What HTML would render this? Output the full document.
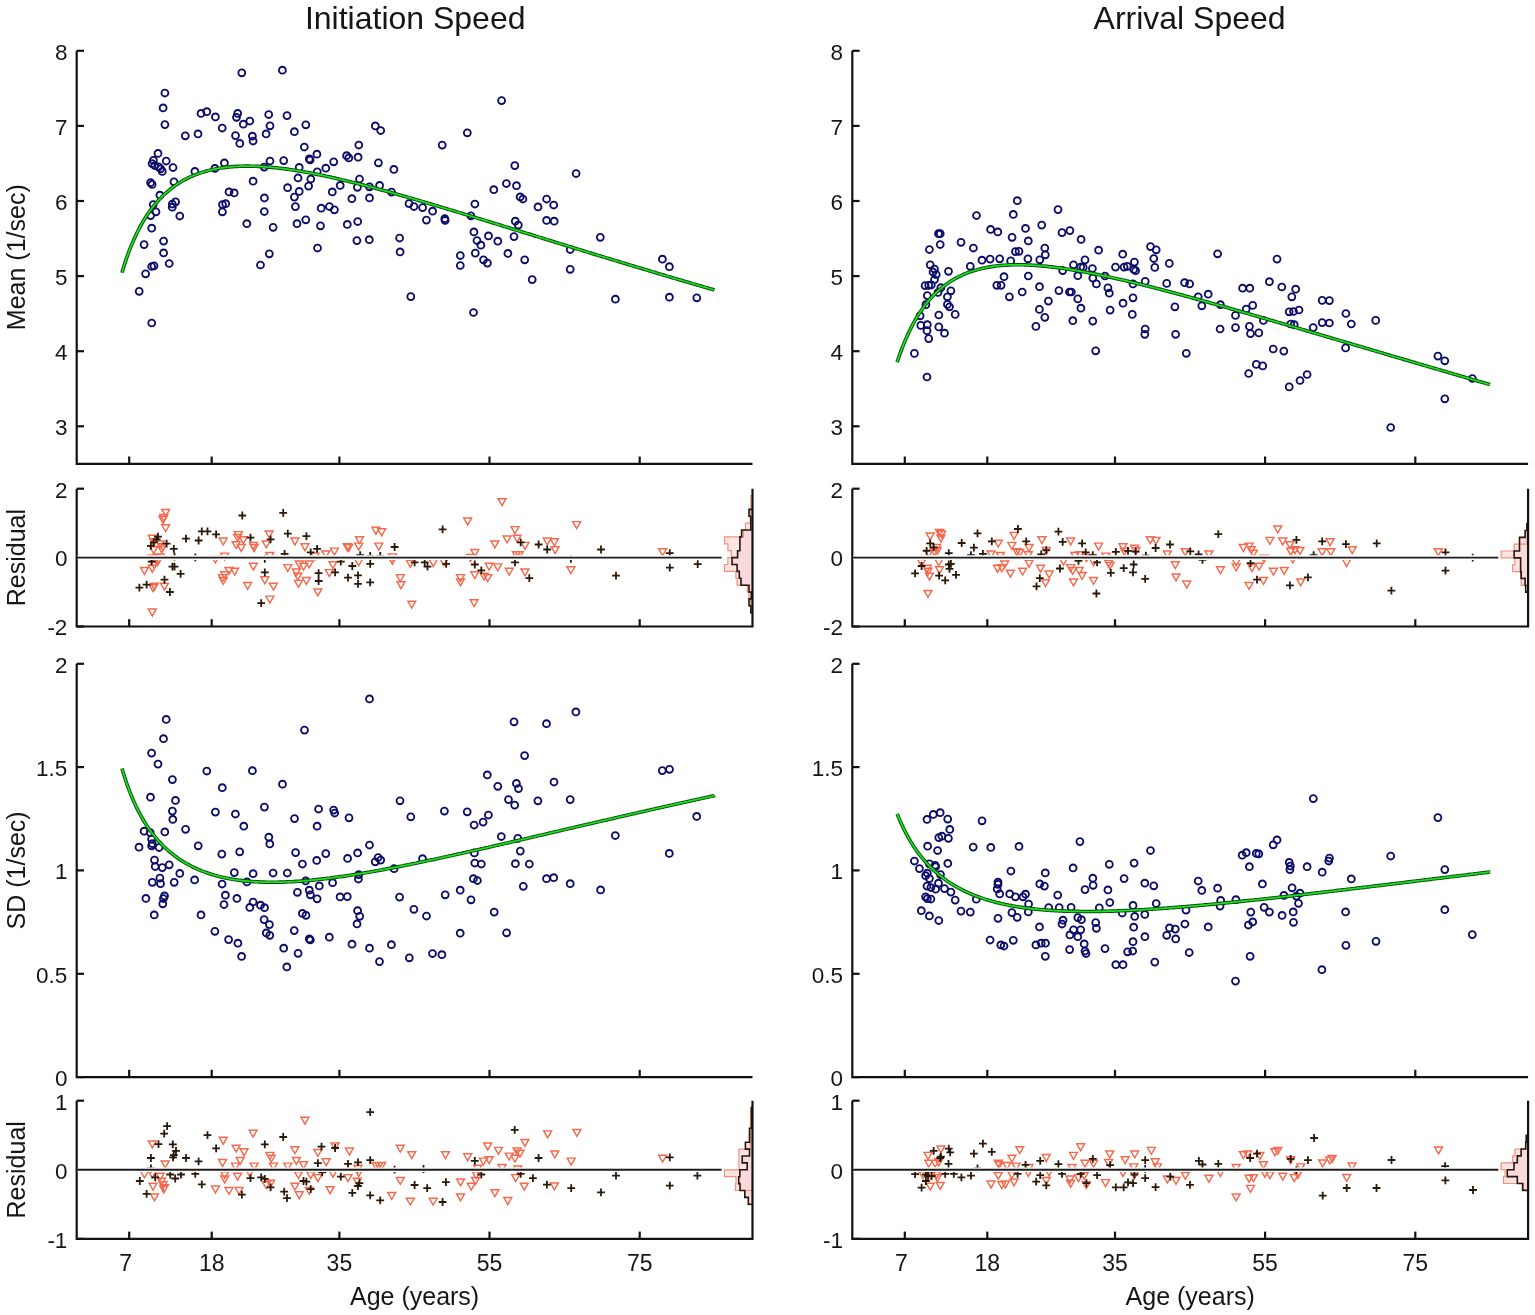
<!DOCTYPE html>
<html><head><meta charset="utf-8"><title>Initiation and Arrival Speed</title>
<style>html,body{margin:0;padding:0;background:#fff;} svg{display:block;}</style>
</head><body>
<svg width="1535" height="1315" viewBox="0 0 1535 1315">
<rect width="1535" height="1315" fill="#fff"/>
<g fill="none" stroke="#0b0b6b" stroke-width="1.85"><circle cx="241.8" cy="72.8" r="3.45"/><circle cx="282.4" cy="70.2" r="3.45"/><circle cx="164.9" cy="93.0" r="3.45"/><circle cx="163.1" cy="107.9" r="3.45"/><circle cx="164.9" cy="124.6" r="3.45"/><circle cx="185.3" cy="135.8" r="3.45"/><circle cx="198.0" cy="133.9" r="3.45"/><circle cx="201.0" cy="113.4" r="3.45"/><circle cx="206.8" cy="111.7" r="3.45"/><circle cx="215.4" cy="116.9" r="3.45"/><circle cx="222.2" cy="128.0" r="3.45"/><circle cx="237.7" cy="113.4" r="3.45"/><circle cx="236.5" cy="117.3" r="3.45"/><circle cx="249.8" cy="121.0" r="3.45"/><circle cx="243.3" cy="124.2" r="3.45"/><circle cx="235.5" cy="135.6" r="3.45"/><circle cx="239.8" cy="143.4" r="3.45"/><circle cx="252.4" cy="136.2" r="3.45"/><circle cx="253.1" cy="141.0" r="3.45"/><circle cx="268.7" cy="114.5" r="3.45"/><circle cx="270.0" cy="125.8" r="3.45"/><circle cx="266.1" cy="133.9" r="3.45"/><circle cx="287.0" cy="115.6" r="3.45"/><circle cx="294.4" cy="131.7" r="3.45"/><circle cx="158.0" cy="153.4" r="3.45"/><circle cx="153.4" cy="160.3" r="3.45"/><circle cx="152.1" cy="163.6" r="3.45"/><circle cx="154.7" cy="165.5" r="3.45"/><circle cx="158.6" cy="166.8" r="3.45"/><circle cx="160.6" cy="168.8" r="3.45"/><circle cx="162.3" cy="171.4" r="3.45"/><circle cx="166.2" cy="161.0" r="3.45"/><circle cx="173.0" cy="167.5" r="3.45"/><circle cx="150.6" cy="182.7" r="3.45"/><circle cx="152.1" cy="184.4" r="3.45"/><circle cx="174.0" cy="181.8" r="3.45"/><circle cx="159.9" cy="195.2" r="3.45"/><circle cx="153.2" cy="204.6" r="3.45"/><circle cx="175.6" cy="201.8" r="3.45"/><circle cx="172.3" cy="204.0" r="3.45"/><circle cx="172.3" cy="207.2" r="3.45"/><circle cx="194.9" cy="171.4" r="3.45"/><circle cx="214.9" cy="168.4" r="3.45"/><circle cx="224.4" cy="162.9" r="3.45"/><circle cx="264.2" cy="167.1" r="3.45"/><circle cx="270.0" cy="161.0" r="3.45"/><circle cx="283.7" cy="160.6" r="3.45"/><circle cx="253.1" cy="181.2" r="3.45"/><circle cx="229.0" cy="191.9" r="3.45"/><circle cx="234.2" cy="192.9" r="3.45"/><circle cx="264.4" cy="197.9" r="3.45"/><circle cx="287.6" cy="187.7" r="3.45"/><circle cx="294.4" cy="197.1" r="3.45"/><circle cx="222.5" cy="204.6" r="3.45"/><circle cx="225.7" cy="203.7" r="3.45"/><circle cx="295.4" cy="206.6" r="3.45"/><circle cx="298.0" cy="177.9" r="3.45"/><circle cx="299.2" cy="167.4" r="3.45"/><circle cx="299.2" cy="191.4" r="3.45"/><circle cx="264.3" cy="211.5" r="3.45"/><circle cx="222.4" cy="211.8" r="3.45"/><circle cx="246.8" cy="223.7" r="3.45"/><circle cx="273.1" cy="227.3" r="3.45"/><circle cx="297.0" cy="223.7" r="3.45"/><circle cx="156.0" cy="211.8" r="3.45"/><circle cx="150.6" cy="215.6" r="3.45"/><circle cx="179.8" cy="216.0" r="3.45"/><circle cx="151.7" cy="228.2" r="3.45"/><circle cx="163.6" cy="241.1" r="3.45"/><circle cx="144.1" cy="244.6" r="3.45"/><circle cx="163.6" cy="252.9" r="3.45"/><circle cx="169.2" cy="263.5" r="3.45"/><circle cx="151.7" cy="266.5" r="3.45"/><circle cx="154.0" cy="265.9" r="3.45"/><circle cx="145.6" cy="273.8" r="3.45"/><circle cx="269.3" cy="253.8" r="3.45"/><circle cx="260.5" cy="265.0" r="3.45"/><circle cx="139.2" cy="291.3" r="3.45"/><circle cx="151.7" cy="323.0" r="3.45"/><circle cx="305.8" cy="124.8" r="3.45"/><circle cx="304.3" cy="147.0" r="3.45"/><circle cx="316.9" cy="154.2" r="3.45"/><circle cx="309.3" cy="158.9" r="3.45"/><circle cx="310.1" cy="159.9" r="3.45"/><circle cx="333.7" cy="161.8" r="3.45"/><circle cx="325.8" cy="168.2" r="3.45"/><circle cx="317.2" cy="171.8" r="3.45"/><circle cx="310.8" cy="179.0" r="3.45"/><circle cx="308.6" cy="186.1" r="3.45"/><circle cx="332.3" cy="191.9" r="3.45"/><circle cx="340.2" cy="185.4" r="3.45"/><circle cx="346.6" cy="155.7" r="3.45"/><circle cx="348.8" cy="157.9" r="3.45"/><circle cx="358.1" cy="157.2" r="3.45"/><circle cx="358.8" cy="145.0" r="3.45"/><circle cx="375.3" cy="125.9" r="3.45"/><circle cx="380.7" cy="130.5" r="3.45"/><circle cx="378.4" cy="162.8" r="3.45"/><circle cx="393.9" cy="169.4" r="3.45"/><circle cx="359.5" cy="179.0" r="3.45"/><circle cx="357.4" cy="187.3" r="3.45"/><circle cx="369.5" cy="186.8" r="3.45"/><circle cx="379.6" cy="185.4" r="3.45"/><circle cx="391.5" cy="192.1" r="3.45"/><circle cx="351.9" cy="198.7" r="3.45"/><circle cx="369.5" cy="197.9" r="3.45"/><circle cx="442.2" cy="145.1" r="3.45"/><circle cx="467.3" cy="132.8" r="3.45"/><circle cx="501.6" cy="100.6" r="3.45"/><circle cx="493.8" cy="189.7" r="3.45"/><circle cx="506.4" cy="183.5" r="3.45"/><circle cx="321.2" cy="208.2" r="3.45"/><circle cx="329.4" cy="206.5" r="3.45"/><circle cx="334.4" cy="209.8" r="3.45"/><circle cx="305.8" cy="219.8" r="3.45"/><circle cx="320.5" cy="225.8" r="3.45"/><circle cx="347.3" cy="224.4" r="3.45"/><circle cx="357.7" cy="221.5" r="3.45"/><circle cx="317.5" cy="248.0" r="3.45"/><circle cx="356.9" cy="240.6" r="3.45"/><circle cx="369.3" cy="239.7" r="3.45"/><circle cx="399.6" cy="238.0" r="3.45"/><circle cx="400.1" cy="251.9" r="3.45"/><circle cx="409.0" cy="203.6" r="3.45"/><circle cx="414.0" cy="206.5" r="3.45"/><circle cx="422.6" cy="207.6" r="3.45"/><circle cx="432.6" cy="211.2" r="3.45"/><circle cx="426.4" cy="220.1" r="3.45"/><circle cx="444.8" cy="218.7" r="3.45"/><circle cx="445.1" cy="220.4" r="3.45"/><circle cx="474.9" cy="204.0" r="3.45"/><circle cx="470.9" cy="215.8" r="3.45"/><circle cx="473.9" cy="231.9" r="3.45"/><circle cx="477.0" cy="240.5" r="3.45"/><circle cx="480.9" cy="245.2" r="3.45"/><circle cx="488.5" cy="235.9" r="3.45"/><circle cx="497.8" cy="241.2" r="3.45"/><circle cx="475.3" cy="253.1" r="3.45"/><circle cx="460.3" cy="255.5" r="3.45"/><circle cx="460.3" cy="265.5" r="3.45"/><circle cx="483.5" cy="259.8" r="3.45"/><circle cx="487.4" cy="263.1" r="3.45"/><circle cx="507.9" cy="253.4" r="3.45"/><circle cx="410.8" cy="296.6" r="3.45"/><circle cx="473.5" cy="312.5" r="3.45"/><circle cx="514.8" cy="165.6" r="3.45"/><circle cx="576.1" cy="173.5" r="3.45"/><circle cx="516.5" cy="185.7" r="3.45"/><circle cx="520.1" cy="196.9" r="3.45"/><circle cx="522.9" cy="199.0" r="3.45"/><circle cx="546.6" cy="199.0" r="3.45"/><circle cx="538.0" cy="206.9" r="3.45"/><circle cx="553.7" cy="205.0" r="3.45"/><circle cx="515.3" cy="221.2" r="3.45"/><circle cx="518.3" cy="225.1" r="3.45"/><circle cx="546.6" cy="220.4" r="3.45"/><circle cx="554.2" cy="221.2" r="3.45"/><circle cx="514.0" cy="236.6" r="3.45"/><circle cx="524.7" cy="259.8" r="3.45"/><circle cx="532.2" cy="279.6" r="3.45"/><circle cx="570.2" cy="249.5" r="3.45"/><circle cx="570.2" cy="269.3" r="3.45"/><circle cx="600.3" cy="237.3" r="3.45"/><circle cx="615.4" cy="299.2" r="3.45"/><circle cx="662.4" cy="259.2" r="3.45"/><circle cx="669.4" cy="266.7" r="3.45"/><circle cx="669.4" cy="297.2" r="3.45"/><circle cx="696.8" cy="297.8" r="3.45"/><circle cx="1017.3" cy="200.7" r="3.45"/><circle cx="1058.0" cy="209.6" r="3.45"/><circle cx="976.5" cy="215.5" r="3.45"/><circle cx="1013.3" cy="214.4" r="3.45"/><circle cx="990.6" cy="229.4" r="3.45"/><circle cx="997.8" cy="231.9" r="3.45"/><circle cx="1025.5" cy="228.4" r="3.45"/><circle cx="1041.7" cy="225.1" r="3.45"/><circle cx="1062.0" cy="232.6" r="3.45"/><circle cx="1069.9" cy="230.6" r="3.45"/><circle cx="1081.1" cy="239.4" r="3.45"/><circle cx="938.5" cy="233.7" r="3.45"/><circle cx="940.2" cy="233.7" r="3.45"/><circle cx="940.2" cy="244.5" r="3.45"/><circle cx="929.4" cy="249.5" r="3.45"/><circle cx="961.0" cy="242.3" r="3.45"/><circle cx="973.4" cy="248.0" r="3.45"/><circle cx="1012.1" cy="237.3" r="3.45"/><circle cx="1028.3" cy="240.9" r="3.45"/><circle cx="1015.4" cy="251.6" r="3.45"/><circle cx="1019.0" cy="251.3" r="3.45"/><circle cx="1044.8" cy="248.0" r="3.45"/><circle cx="1045.3" cy="254.8" r="3.45"/><circle cx="1039.8" cy="259.8" r="3.45"/><circle cx="1027.9" cy="258.8" r="3.45"/><circle cx="1010.7" cy="260.9" r="3.45"/><circle cx="999.7" cy="258.8" r="3.45"/><circle cx="990.1" cy="259.1" r="3.45"/><circle cx="982.0" cy="260.2" r="3.45"/><circle cx="970.3" cy="266.3" r="3.45"/><circle cx="1098.6" cy="250.2" r="3.45"/><circle cx="1085.0" cy="259.9" r="3.45"/><circle cx="1073.5" cy="264.8" r="3.45"/><circle cx="1080.7" cy="267.1" r="3.45"/><circle cx="1083.2" cy="267.4" r="3.45"/><circle cx="1092.4" cy="268.5" r="3.45"/><circle cx="1062.7" cy="270.6" r="3.45"/><circle cx="1077.8" cy="275.7" r="3.45"/><circle cx="1092.8" cy="278.1" r="3.45"/><circle cx="1096.4" cy="283.9" r="3.45"/><circle cx="930.2" cy="264.8" r="3.45"/><circle cx="934.5" cy="269.1" r="3.45"/><circle cx="933.0" cy="272.0" r="3.45"/><circle cx="936.2" cy="274.6" r="3.45"/><circle cx="934.5" cy="279.6" r="3.45"/><circle cx="948.5" cy="271.3" r="3.45"/><circle cx="925.1" cy="285.6" r="3.45"/><circle cx="928.7" cy="285.3" r="3.45"/><circle cx="931.3" cy="284.9" r="3.45"/><circle cx="940.9" cy="287.7" r="3.45"/><circle cx="938.0" cy="292.5" r="3.45"/><circle cx="950.9" cy="290.8" r="3.45"/><circle cx="927.3" cy="295.6" r="3.45"/><circle cx="947.4" cy="296.8" r="3.45"/><circle cx="947.4" cy="304.4" r="3.45"/><circle cx="949.5" cy="306.8" r="3.45"/><circle cx="925.9" cy="304.7" r="3.45"/><circle cx="920.1" cy="315.8" r="3.45"/><circle cx="938.8" cy="315.0" r="3.45"/><circle cx="955.2" cy="314.4" r="3.45"/><circle cx="920.8" cy="325.4" r="3.45"/><circle cx="927.3" cy="324.7" r="3.45"/><circle cx="938.8" cy="326.9" r="3.45"/><circle cx="1004.0" cy="276.7" r="3.45"/><circle cx="1028.3" cy="276.0" r="3.45"/><circle cx="996.8" cy="285.3" r="3.45"/><circle cx="1001.1" cy="285.3" r="3.45"/><circle cx="1039.5" cy="286.7" r="3.45"/><circle cx="1022.2" cy="292.0" r="3.45"/><circle cx="1009.4" cy="296.8" r="3.45"/><circle cx="1058.9" cy="290.6" r="3.45"/><circle cx="1069.5" cy="292.0" r="3.45"/><circle cx="1071.3" cy="292.0" r="3.45"/><circle cx="1077.8" cy="298.9" r="3.45"/><circle cx="1048.4" cy="301.1" r="3.45"/><circle cx="1039.4" cy="309.4" r="3.45"/><circle cx="1044.8" cy="317.3" r="3.45"/><circle cx="1080.9" cy="308.2" r="3.45"/><circle cx="1072.8" cy="320.7" r="3.45"/><circle cx="1092.8" cy="321.1" r="3.45"/><circle cx="1035.9" cy="326.4" r="3.45"/><circle cx="927.0" cy="330.7" r="3.45"/><circle cx="944.5" cy="333.2" r="3.45"/><circle cx="928.7" cy="338.6" r="3.45"/><circle cx="914.4" cy="353.4" r="3.45"/><circle cx="927.0" cy="377.0" r="3.45"/><circle cx="1095.7" cy="350.8" r="3.45"/><circle cx="1122.7" cy="254.2" r="3.45"/><circle cx="1150.5" cy="246.6" r="3.45"/><circle cx="1156.2" cy="249.8" r="3.45"/><circle cx="1153.8" cy="258.5" r="3.45"/><circle cx="1154.8" cy="267.4" r="3.45"/><circle cx="1169.3" cy="263.4" r="3.45"/><circle cx="1217.6" cy="253.8" r="3.45"/><circle cx="1277.0" cy="259.1" r="3.45"/><circle cx="1115.5" cy="267.1" r="3.45"/><circle cx="1124.1" cy="267.1" r="3.45"/><circle cx="1127.3" cy="266.3" r="3.45"/><circle cx="1134.4" cy="262.1" r="3.45"/><circle cx="1133.7" cy="269.5" r="3.45"/><circle cx="1135.6" cy="270.7" r="3.45"/><circle cx="1105.0" cy="276.0" r="3.45"/><circle cx="1107.9" cy="287.9" r="3.45"/><circle cx="1109.3" cy="293.2" r="3.45"/><circle cx="1133.0" cy="283.9" r="3.45"/><circle cx="1145.2" cy="281.4" r="3.45"/><circle cx="1166.7" cy="283.4" r="3.45"/><circle cx="1184.6" cy="282.7" r="3.45"/><circle cx="1189.6" cy="283.9" r="3.45"/><circle cx="1133.0" cy="297.8" r="3.45"/><circle cx="1123.0" cy="303.2" r="3.45"/><circle cx="1110.1" cy="310.1" r="3.45"/><circle cx="1132.3" cy="314.4" r="3.45"/><circle cx="1174.9" cy="306.8" r="3.45"/><circle cx="1198.2" cy="296.8" r="3.45"/><circle cx="1208.2" cy="294.2" r="3.45"/><circle cx="1201.8" cy="305.8" r="3.45"/><circle cx="1220.4" cy="304.7" r="3.45"/><circle cx="1242.6" cy="288.2" r="3.45"/><circle cx="1249.8" cy="288.2" r="3.45"/><circle cx="1269.4" cy="281.7" r="3.45"/><circle cx="1281.8" cy="287.0" r="3.45"/><circle cx="1295.7" cy="289.2" r="3.45"/><circle cx="1291.8" cy="296.8" r="3.45"/><circle cx="1252.7" cy="305.4" r="3.45"/><circle cx="1246.2" cy="309.0" r="3.45"/><circle cx="1235.5" cy="315.4" r="3.45"/><circle cx="1263.4" cy="320.4" r="3.45"/><circle cx="1289.2" cy="311.8" r="3.45"/><circle cx="1293.5" cy="311.5" r="3.45"/><circle cx="1299.0" cy="310.0" r="3.45"/><circle cx="1290.7" cy="324.0" r="3.45"/><circle cx="1294.2" cy="324.7" r="3.45"/><circle cx="1145.2" cy="329.0" r="3.45"/><circle cx="1220.1" cy="329.0" r="3.45"/><circle cx="1235.5" cy="327.6" r="3.45"/><circle cx="1249.4" cy="326.4" r="3.45"/><circle cx="1144.8" cy="334.3" r="3.45"/><circle cx="1175.6" cy="334.3" r="3.45"/><circle cx="1250.5" cy="333.6" r="3.45"/><circle cx="1258.8" cy="332.9" r="3.45"/><circle cx="1186.3" cy="353.3" r="3.45"/><circle cx="1273.2" cy="349.0" r="3.45"/><circle cx="1283.8" cy="351.1" r="3.45"/><circle cx="1256.3" cy="364.4" r="3.45"/><circle cx="1262.7" cy="365.9" r="3.45"/><circle cx="1248.7" cy="373.5" r="3.45"/><circle cx="1307.1" cy="374.5" r="3.45"/><circle cx="1300.0" cy="380.5" r="3.45"/><circle cx="1289.2" cy="386.9" r="3.45"/><circle cx="1322.2" cy="300.4" r="3.45"/><circle cx="1329.4" cy="300.6" r="3.45"/><circle cx="1345.9" cy="313.5" r="3.45"/><circle cx="1351.3" cy="324.0" r="3.45"/><circle cx="1375.7" cy="320.4" r="3.45"/><circle cx="1322.2" cy="322.6" r="3.45"/><circle cx="1329.4" cy="323.0" r="3.45"/><circle cx="1313.2" cy="327.6" r="3.45"/><circle cx="1345.6" cy="347.9" r="3.45"/><circle cx="1437.9" cy="356.1" r="3.45"/><circle cx="1444.8" cy="360.8" r="3.45"/><circle cx="1472.4" cy="378.5" r="3.45"/><circle cx="1444.8" cy="398.8" r="3.45"/><circle cx="1390.7" cy="427.5" r="3.45"/><circle cx="166.2" cy="719.4" r="3.45"/><circle cx="163.5" cy="738.7" r="3.45"/><circle cx="151.6" cy="753.1" r="3.45"/><circle cx="158.0" cy="764.1" r="3.45"/><circle cx="172.4" cy="779.6" r="3.45"/><circle cx="150.5" cy="797.2" r="3.45"/><circle cx="175.5" cy="800.4" r="3.45"/><circle cx="172.4" cy="811.1" r="3.45"/><circle cx="172.8" cy="819.4" r="3.45"/><circle cx="144.1" cy="831.2" r="3.45"/><circle cx="150.2" cy="832.6" r="3.45"/><circle cx="164.8" cy="831.9" r="3.45"/><circle cx="185.6" cy="829.3" r="3.45"/><circle cx="206.8" cy="771.0" r="3.45"/><circle cx="222.3" cy="787.7" r="3.45"/><circle cx="252.4" cy="770.7" r="3.45"/><circle cx="282.5" cy="784.2" r="3.45"/><circle cx="304.5" cy="730.1" r="3.45"/><circle cx="215.4" cy="812.1" r="3.45"/><circle cx="235.4" cy="814.0" r="3.45"/><circle cx="264.4" cy="807.1" r="3.45"/><circle cx="243.8" cy="826.2" r="3.45"/><circle cx="294.5" cy="818.6" r="3.45"/><circle cx="318.6" cy="809.0" r="3.45"/><circle cx="317.1" cy="826.2" r="3.45"/><circle cx="268.8" cy="837.2" r="3.45"/><circle cx="151.6" cy="839.1" r="3.45"/><circle cx="139.0" cy="847.2" r="3.45"/><circle cx="152.3" cy="843.6" r="3.45"/><circle cx="151.6" cy="845.8" r="3.45"/><circle cx="159.1" cy="847.5" r="3.45"/><circle cx="154.5" cy="860.1" r="3.45"/><circle cx="155.2" cy="866.5" r="3.45"/><circle cx="162.3" cy="867.6" r="3.45"/><circle cx="169.2" cy="864.8" r="3.45"/><circle cx="179.8" cy="873.4" r="3.45"/><circle cx="159.9" cy="878.0" r="3.45"/><circle cx="152.3" cy="882.3" r="3.45"/><circle cx="160.5" cy="883.7" r="3.45"/><circle cx="174.2" cy="882.3" r="3.45"/><circle cx="194.6" cy="879.9" r="3.45"/><circle cx="198.2" cy="845.8" r="3.45"/><circle cx="221.8" cy="854.1" r="3.45"/><circle cx="239.7" cy="851.8" r="3.45"/><circle cx="269.8" cy="843.9" r="3.45"/><circle cx="295.6" cy="852.6" r="3.45"/><circle cx="302.4" cy="864.0" r="3.45"/><circle cx="316.7" cy="860.4" r="3.45"/><circle cx="234.3" cy="872.6" r="3.45"/><circle cx="253.1" cy="873.7" r="3.45"/><circle cx="273.1" cy="873.0" r="3.45"/><circle cx="287.3" cy="873.0" r="3.45"/><circle cx="222.1" cy="884.0" r="3.45"/><circle cx="246.9" cy="881.9" r="3.45"/><circle cx="305.7" cy="880.9" r="3.45"/><circle cx="319.3" cy="885.9" r="3.45"/><circle cx="297.4" cy="892.3" r="3.45"/><circle cx="309.3" cy="890.2" r="3.45"/><circle cx="310.4" cy="894.8" r="3.45"/><circle cx="317.1" cy="898.8" r="3.45"/><circle cx="145.9" cy="898.4" r="3.45"/><circle cx="164.5" cy="895.9" r="3.45"/><circle cx="163.4" cy="898.5" r="3.45"/><circle cx="162.8" cy="903.8" r="3.45"/><circle cx="154.2" cy="914.9" r="3.45"/><circle cx="201.0" cy="914.9" r="3.45"/><circle cx="225.4" cy="895.2" r="3.45"/><circle cx="236.9" cy="898.4" r="3.45"/><circle cx="224.0" cy="904.5" r="3.45"/><circle cx="253.1" cy="902.0" r="3.45"/><circle cx="249.8" cy="907.4" r="3.45"/><circle cx="260.5" cy="905.2" r="3.45"/><circle cx="264.5" cy="907.7" r="3.45"/><circle cx="302.4" cy="913.4" r="3.45"/><circle cx="306.0" cy="915.3" r="3.45"/><circle cx="264.1" cy="919.6" r="3.45"/><circle cx="269.4" cy="924.6" r="3.45"/><circle cx="266.3" cy="932.9" r="3.45"/><circle cx="269.8" cy="935.3" r="3.45"/><circle cx="294.2" cy="930.6" r="3.45"/><circle cx="309.3" cy="938.9" r="3.45"/><circle cx="310.3" cy="939.9" r="3.45"/><circle cx="214.9" cy="931.3" r="3.45"/><circle cx="228.6" cy="939.6" r="3.45"/><circle cx="237.9" cy="943.2" r="3.45"/><circle cx="283.7" cy="948.2" r="3.45"/><circle cx="298.1" cy="953.3" r="3.45"/><circle cx="241.6" cy="956.4" r="3.45"/><circle cx="286.8" cy="966.9" r="3.45"/><circle cx="369.5" cy="698.9" r="3.45"/><circle cx="514.0" cy="721.8" r="3.45"/><circle cx="524.6" cy="755.6" r="3.45"/><circle cx="487.3" cy="774.9" r="3.45"/><circle cx="497.8" cy="786.3" r="3.45"/><circle cx="516.4" cy="783.4" r="3.45"/><circle cx="518.5" cy="788.6" r="3.45"/><circle cx="508.5" cy="799.6" r="3.45"/><circle cx="514.7" cy="805.1" r="3.45"/><circle cx="400.0" cy="800.8" r="3.45"/><circle cx="410.8" cy="816.8" r="3.45"/><circle cx="444.4" cy="811.1" r="3.45"/><circle cx="467.2" cy="811.8" r="3.45"/><circle cx="488.4" cy="815.0" r="3.45"/><circle cx="483.1" cy="822.1" r="3.45"/><circle cx="474.1" cy="825.0" r="3.45"/><circle cx="501.3" cy="836.5" r="3.45"/><circle cx="517.8" cy="838.3" r="3.45"/><circle cx="333.6" cy="810.1" r="3.45"/><circle cx="334.7" cy="813.0" r="3.45"/><circle cx="349.0" cy="817.8" r="3.45"/><circle cx="325.8" cy="853.6" r="3.45"/><circle cx="347.6" cy="858.4" r="3.45"/><circle cx="357.6" cy="852.9" r="3.45"/><circle cx="369.5" cy="845.0" r="3.45"/><circle cx="378.1" cy="857.5" r="3.45"/><circle cx="380.7" cy="860.1" r="3.45"/><circle cx="375.2" cy="861.8" r="3.45"/><circle cx="358.7" cy="874.7" r="3.45"/><circle cx="358.4" cy="879.0" r="3.45"/><circle cx="394.1" cy="868.7" r="3.45"/><circle cx="422.5" cy="858.7" r="3.45"/><circle cx="474.4" cy="852.9" r="3.45"/><circle cx="474.8" cy="863.0" r="3.45"/><circle cx="481.3" cy="864.0" r="3.45"/><circle cx="520.3" cy="851.1" r="3.45"/><circle cx="515.4" cy="863.7" r="3.45"/><circle cx="529.3" cy="864.0" r="3.45"/><circle cx="473.4" cy="878.7" r="3.45"/><circle cx="477.4" cy="880.5" r="3.45"/><circle cx="523.3" cy="886.3" r="3.45"/><circle cx="332.6" cy="882.7" r="3.45"/><circle cx="340.1" cy="896.9" r="3.45"/><circle cx="347.3" cy="896.6" r="3.45"/><circle cx="399.6" cy="897.1" r="3.45"/><circle cx="445.2" cy="894.8" r="3.45"/><circle cx="460.2" cy="890.2" r="3.45"/><circle cx="471.0" cy="899.8" r="3.45"/><circle cx="413.9" cy="909.3" r="3.45"/><circle cx="426.5" cy="916.0" r="3.45"/><circle cx="494.2" cy="912.1" r="3.45"/><circle cx="357.6" cy="910.7" r="3.45"/><circle cx="359.7" cy="916.3" r="3.45"/><circle cx="357.0" cy="923.9" r="3.45"/><circle cx="329.3" cy="937.2" r="3.45"/><circle cx="352.0" cy="944.2" r="3.45"/><circle cx="369.5" cy="948.2" r="3.45"/><circle cx="391.4" cy="944.7" r="3.45"/><circle cx="379.5" cy="961.6" r="3.45"/><circle cx="409.3" cy="957.8" r="3.45"/><circle cx="432.5" cy="953.5" r="3.45"/><circle cx="441.9" cy="954.7" r="3.45"/><circle cx="460.2" cy="933.2" r="3.45"/><circle cx="506.6" cy="932.8" r="3.45"/><circle cx="575.9" cy="711.9" r="3.45"/><circle cx="546.5" cy="723.7" r="3.45"/><circle cx="554.0" cy="782.0" r="3.45"/><circle cx="537.9" cy="800.8" r="3.45"/><circle cx="570.2" cy="799.6" r="3.45"/><circle cx="662.3" cy="770.6" r="3.45"/><circle cx="669.5" cy="769.3" r="3.45"/><circle cx="696.7" cy="816.4" r="3.45"/><circle cx="615.3" cy="835.5" r="3.45"/><circle cx="669.3" cy="853.4" r="3.45"/><circle cx="546.5" cy="878.7" r="3.45"/><circle cx="553.7" cy="877.7" r="3.45"/><circle cx="570.2" cy="883.7" r="3.45"/><circle cx="600.6" cy="889.9" r="3.45"/><circle cx="933.3" cy="814.4" r="3.45"/><circle cx="940.2" cy="812.7" r="3.45"/><circle cx="927.0" cy="819.4" r="3.45"/><circle cx="947.7" cy="819.1" r="3.45"/><circle cx="949.8" cy="829.4" r="3.45"/><circle cx="938.8" cy="837.6" r="3.45"/><circle cx="941.9" cy="836.2" r="3.45"/><circle cx="948.4" cy="838.3" r="3.45"/><circle cx="927.6" cy="846.2" r="3.45"/><circle cx="937.6" cy="850.5" r="3.45"/><circle cx="982.0" cy="820.8" r="3.45"/><circle cx="973.2" cy="847.1" r="3.45"/><circle cx="990.8" cy="847.4" r="3.45"/><circle cx="1019.0" cy="846.4" r="3.45"/><circle cx="1079.9" cy="841.6" r="3.45"/><circle cx="914.4" cy="861.0" r="3.45"/><circle cx="919.4" cy="868.6" r="3.45"/><circle cx="929.4" cy="863.8" r="3.45"/><circle cx="935.2" cy="865.3" r="3.45"/><circle cx="935.6" cy="866.7" r="3.45"/><circle cx="947.8" cy="863.4" r="3.45"/><circle cx="927.3" cy="873.2" r="3.45"/><circle cx="925.6" cy="875.7" r="3.45"/><circle cx="929.4" cy="878.6" r="3.45"/><circle cx="940.5" cy="874.6" r="3.45"/><circle cx="938.5" cy="883.2" r="3.45"/><circle cx="927.0" cy="886.1" r="3.45"/><circle cx="930.9" cy="887.5" r="3.45"/><circle cx="935.6" cy="889.2" r="3.45"/><circle cx="944.5" cy="888.6" r="3.45"/><circle cx="950.9" cy="892.1" r="3.45"/><circle cx="925.6" cy="896.8" r="3.45"/><circle cx="927.3" cy="898.7" r="3.45"/><circle cx="930.9" cy="899.0" r="3.45"/><circle cx="955.2" cy="900.1" r="3.45"/><circle cx="921.3" cy="910.7" r="3.45"/><circle cx="929.4" cy="915.9" r="3.45"/><circle cx="938.8" cy="920.5" r="3.45"/><circle cx="961.0" cy="911.1" r="3.45"/><circle cx="970.3" cy="912.1" r="3.45"/><circle cx="976.3" cy="899.2" r="3.45"/><circle cx="998.0" cy="882.2" r="3.45"/><circle cx="998.0" cy="884.3" r="3.45"/><circle cx="997.2" cy="888.9" r="3.45"/><circle cx="999.7" cy="893.9" r="3.45"/><circle cx="1009.7" cy="893.9" r="3.45"/><circle cx="1015.4" cy="896.8" r="3.45"/><circle cx="1023.0" cy="896.8" r="3.45"/><circle cx="1025.5" cy="894.2" r="3.45"/><circle cx="1010.9" cy="871.0" r="3.45"/><circle cx="1045.3" cy="872.9" r="3.45"/><circle cx="1073.1" cy="867.9" r="3.45"/><circle cx="1039.8" cy="883.9" r="3.45"/><circle cx="1044.4" cy="886.1" r="3.45"/><circle cx="1057.7" cy="895.1" r="3.45"/><circle cx="1085.0" cy="889.6" r="3.45"/><circle cx="1092.8" cy="878.2" r="3.45"/><circle cx="1093.1" cy="885.3" r="3.45"/><circle cx="1028.6" cy="904.0" r="3.45"/><circle cx="1028.3" cy="911.9" r="3.45"/><circle cx="1011.9" cy="912.6" r="3.45"/><circle cx="1017.2" cy="917.3" r="3.45"/><circle cx="998.0" cy="918.3" r="3.45"/><circle cx="1048.7" cy="907.6" r="3.45"/><circle cx="1059.2" cy="907.6" r="3.45"/><circle cx="1071.1" cy="907.3" r="3.45"/><circle cx="1099.3" cy="907.8" r="3.45"/><circle cx="1063.0" cy="920.2" r="3.45"/><circle cx="1062.0" cy="924.0" r="3.45"/><circle cx="1077.8" cy="917.6" r="3.45"/><circle cx="1081.4" cy="919.7" r="3.45"/><circle cx="1095.7" cy="922.6" r="3.45"/><circle cx="1039.5" cy="926.9" r="3.45"/><circle cx="1096.4" cy="928.3" r="3.45"/><circle cx="1073.5" cy="929.8" r="3.45"/><circle cx="1080.7" cy="929.8" r="3.45"/><circle cx="1069.9" cy="934.9" r="3.45"/><circle cx="1077.8" cy="936.7" r="3.45"/><circle cx="990.1" cy="940.0" r="3.45"/><circle cx="1000.8" cy="944.9" r="3.45"/><circle cx="1004.0" cy="946.0" r="3.45"/><circle cx="1013.3" cy="940.3" r="3.45"/><circle cx="1035.9" cy="944.9" r="3.45"/><circle cx="1041.2" cy="943.2" r="3.45"/><circle cx="1045.5" cy="943.2" r="3.45"/><circle cx="1045.3" cy="956.3" r="3.45"/><circle cx="1069.6" cy="949.6" r="3.45"/><circle cx="1084.2" cy="943.9" r="3.45"/><circle cx="1085.0" cy="951.0" r="3.45"/><circle cx="1086.0" cy="953.5" r="3.45"/><circle cx="1109.3" cy="864.3" r="3.45"/><circle cx="1134.1" cy="863.1" r="3.45"/><circle cx="1150.5" cy="850.5" r="3.45"/><circle cx="1124.1" cy="878.6" r="3.45"/><circle cx="1107.9" cy="889.9" r="3.45"/><circle cx="1144.8" cy="883.2" r="3.45"/><circle cx="1153.8" cy="885.8" r="3.45"/><circle cx="1109.8" cy="902.5" r="3.45"/><circle cx="1133.0" cy="905.4" r="3.45"/><circle cx="1156.2" cy="903.5" r="3.45"/><circle cx="1122.2" cy="913.0" r="3.45"/><circle cx="1134.7" cy="916.4" r="3.45"/><circle cx="1144.8" cy="914.4" r="3.45"/><circle cx="1133.7" cy="927.2" r="3.45"/><circle cx="1169.5" cy="927.9" r="3.45"/><circle cx="1175.3" cy="929.1" r="3.45"/><circle cx="1184.9" cy="924.0" r="3.45"/><circle cx="1208.2" cy="926.9" r="3.45"/><circle cx="1186.0" cy="910.1" r="3.45"/><circle cx="1198.2" cy="881.0" r="3.45"/><circle cx="1201.8" cy="890.4" r="3.45"/><circle cx="1217.6" cy="888.2" r="3.45"/><circle cx="1220.7" cy="900.4" r="3.45"/><circle cx="1220.1" cy="906.1" r="3.45"/><circle cx="1235.9" cy="899.7" r="3.45"/><circle cx="1242.2" cy="855.2" r="3.45"/><circle cx="1246.2" cy="852.7" r="3.45"/><circle cx="1256.3" cy="853.4" r="3.45"/><circle cx="1258.8" cy="853.8" r="3.45"/><circle cx="1249.4" cy="866.7" r="3.45"/><circle cx="1273.2" cy="844.8" r="3.45"/><circle cx="1277.0" cy="839.9" r="3.45"/><circle cx="1289.2" cy="862.4" r="3.45"/><circle cx="1290.4" cy="866.0" r="3.45"/><circle cx="1289.9" cy="869.6" r="3.45"/><circle cx="1307.1" cy="866.7" r="3.45"/><circle cx="1262.4" cy="883.9" r="3.45"/><circle cx="1292.1" cy="887.8" r="3.45"/><circle cx="1283.9" cy="895.4" r="3.45"/><circle cx="1296.4" cy="896.1" r="3.45"/><circle cx="1300.0" cy="893.2" r="3.45"/><circle cx="1298.5" cy="903.3" r="3.45"/><circle cx="1264.1" cy="907.3" r="3.45"/><circle cx="1269.4" cy="912.1" r="3.45"/><circle cx="1250.8" cy="912.1" r="3.45"/><circle cx="1282.1" cy="915.4" r="3.45"/><circle cx="1293.2" cy="911.9" r="3.45"/><circle cx="1293.5" cy="922.3" r="3.45"/><circle cx="1252.7" cy="921.9" r="3.45"/><circle cx="1248.4" cy="925.0" r="3.45"/><circle cx="1166.7" cy="935.3" r="3.45"/><circle cx="1175.7" cy="938.9" r="3.45"/><circle cx="1144.9" cy="936.7" r="3.45"/><circle cx="1133.0" cy="941.7" r="3.45"/><circle cx="1105.0" cy="948.6" r="3.45"/><circle cx="1127.6" cy="951.8" r="3.45"/><circle cx="1132.7" cy="951.0" r="3.45"/><circle cx="1115.8" cy="964.7" r="3.45"/><circle cx="1123.0" cy="964.7" r="3.45"/><circle cx="1154.8" cy="962.1" r="3.45"/><circle cx="1189.2" cy="952.5" r="3.45"/><circle cx="1250.1" cy="956.3" r="3.45"/><circle cx="1235.5" cy="981.1" r="3.45"/><circle cx="1313.3" cy="798.6" r="3.45"/><circle cx="1437.9" cy="817.6" r="3.45"/><circle cx="1329.4" cy="858.1" r="3.45"/><circle cx="1328.7" cy="861.0" r="3.45"/><circle cx="1322.2" cy="872.2" r="3.45"/><circle cx="1351.3" cy="878.9" r="3.45"/><circle cx="1390.7" cy="856.0" r="3.45"/><circle cx="1444.8" cy="869.6" r="3.45"/><circle cx="1444.8" cy="909.7" r="3.45"/><circle cx="1345.6" cy="911.9" r="3.45"/><circle cx="1345.9" cy="945.3" r="3.45"/><circle cx="1376.0" cy="941.3" r="3.45"/><circle cx="1472.3" cy="934.6" r="3.45"/><circle cx="1321.9" cy="969.7" r="3.45"/></g>
<path d="M121.9,272.7 L123.4,267.8 L124.9,263.1 L126.4,258.6 L127.9,254.4 L129.4,250.4 L130.9,246.5 L132.4,242.9 L133.9,239.5 L135.4,236.2 L136.9,233.0 L138.4,230.0 L139.9,227.2 L141.4,224.4 L142.9,221.8 L144.4,219.3 L145.9,216.9 L147.4,214.6 L148.9,212.4 L150.4,210.3 L151.9,208.3 L153.4,206.3 L154.9,204.5 L156.4,202.7 L157.9,201.0 L159.4,199.3 L160.9,197.8 L162.4,196.2 L163.9,194.8 L165.4,193.4 L166.9,192.1 L168.4,190.8 L169.9,189.5 L171.4,188.3 L172.9,187.2 L174.4,186.1 L175.9,185.1 L177.4,184.0 L178.9,183.1 L180.4,182.2 L181.9,181.3 L183.4,180.4 L184.9,179.6 L186.4,178.8 L187.9,178.0 L189.4,177.3 L190.9,176.6 L192.4,176.0 L193.9,175.3 L195.4,174.7 L196.9,174.2 L198.4,173.6 L199.9,173.1 L201.4,172.6 L202.9,172.1 L204.4,171.7 L205.9,171.2 L207.4,170.8 L208.9,170.4 L210.4,170.1 L211.9,169.7 L213.4,169.4 L214.9,169.1 L216.4,168.8 L217.9,168.5 L219.4,168.2 L220.9,168.0 L222.4,167.8 L223.9,167.6 L225.4,167.4 L226.9,167.2 L228.4,167.0 L229.9,166.9 L231.4,166.8 L232.9,166.6 L234.4,166.5 L235.9,166.4 L237.4,166.4 L238.9,166.3 L240.4,166.2 L241.9,166.2 L243.4,166.2 L244.9,166.1 L246.4,166.1 L247.9,166.1 L249.4,166.1 L250.9,166.2 L252.4,166.2 L253.9,166.2 L255.4,166.3 L256.9,166.3 L258.4,166.4 L259.9,166.5 L261.4,166.6 L262.9,166.7 L264.4,166.8 L265.9,166.9 L267.4,167.0 L268.9,167.1 L270.4,167.2 L271.9,167.4 L273.4,167.5 L274.9,167.7 L276.4,167.8 L277.9,168.0 L279.4,168.2 L280.9,168.4 L282.4,168.5 L283.9,168.7 L285.4,168.9 L286.9,169.1 L288.4,169.3 L289.9,169.6 L291.4,169.8 L292.9,170.0 L294.4,170.2 L295.9,170.5 L297.4,170.7 L298.9,171.0 L300.4,171.2 L301.9,171.5 L303.4,171.7 L304.9,172.0 L306.4,172.3 L307.9,172.5 L309.4,172.8 L310.9,173.1 L312.4,173.4 L313.9,173.7 L315.4,174.0 L316.9,174.3 L318.4,174.6 L319.9,174.9 L321.4,175.2 L322.9,175.5 L324.4,175.8 L325.9,176.2 L327.4,176.5 L328.9,176.8 L330.4,177.1 L331.9,177.5 L333.4,177.8 L334.9,178.1 L336.4,178.5 L337.9,178.8 L339.4,179.2 L340.9,179.5 L342.4,179.9 L343.9,180.2 L345.4,180.6 L346.9,181.0 L348.4,181.3 L349.9,181.7 L351.4,182.1 L352.9,182.4 L354.4,182.8 L355.9,183.2 L357.4,183.6 L358.9,183.9 L360.4,184.3 L361.9,184.7 L363.4,185.1 L364.9,185.5 L366.4,185.9 L367.9,186.3 L369.4,186.7 L370.9,187.0 L372.4,187.4 L373.9,187.8 L375.4,188.2 L376.9,188.7 L378.4,189.1 L379.9,189.5 L381.4,189.9 L382.9,190.3 L384.4,190.7 L385.9,191.1 L387.4,191.5 L388.9,191.9 L390.4,192.3 L391.9,192.8 L393.4,193.2 L394.9,193.6 L396.4,194.0 L397.9,194.5 L399.4,194.9 L400.9,195.3 L402.4,195.7 L403.9,196.2 L405.4,196.6 L406.9,197.0 L408.4,197.4 L409.9,197.9 L411.4,198.3 L412.9,198.7 L414.4,199.2 L415.9,199.6 L417.4,200.1 L418.9,200.5 L420.4,200.9 L421.9,201.4 L423.4,201.8 L424.9,202.3 L426.4,202.7 L427.9,203.1 L429.4,203.6 L430.9,204.0 L432.4,204.5 L433.9,204.9 L435.4,205.4 L436.9,205.8 L438.4,206.3 L439.9,206.7 L441.4,207.2 L442.9,207.6 L444.4,208.1 L445.9,208.5 L447.4,209.0 L448.9,209.4 L450.4,209.9 L451.9,210.3 L453.4,210.8 L454.9,211.2 L456.4,211.7 L457.9,212.1 L459.4,212.6 L460.9,213.1 L462.4,213.5 L463.9,214.0 L465.4,214.4 L466.9,214.9 L468.4,215.3 L469.9,215.8 L471.4,216.3 L472.9,216.7 L474.4,217.2 L475.9,217.6 L477.4,218.1 L478.9,218.6 L480.4,219.0 L481.9,219.5 L483.4,219.9 L484.9,220.4 L486.4,220.9 L487.9,221.3 L489.4,221.8 L490.9,222.2 L492.4,222.7 L493.9,223.2 L495.4,223.6 L496.9,224.1 L498.4,224.6 L499.9,225.0 L501.4,225.5 L502.9,226.0 L504.4,226.4 L505.9,226.9 L507.4,227.3 L508.9,227.8 L510.4,228.3 L511.9,228.7 L513.4,229.2 L514.9,229.7 L516.4,230.1 L517.9,230.6 L519.4,231.1 L520.9,231.5 L522.4,232.0 L523.9,232.5 L525.4,232.9 L526.9,233.4 L528.4,233.8 L529.9,234.3 L531.4,234.8 L532.9,235.2 L534.4,235.7 L535.9,236.2 L537.4,236.6 L538.9,237.1 L540.4,237.6 L541.9,238.0 L543.4,238.5 L544.9,239.0 L546.4,239.4 L547.9,239.9 L549.4,240.3 L550.9,240.8 L552.4,241.3 L553.9,241.7 L555.4,242.2 L556.9,242.7 L558.4,243.1 L559.9,243.6 L561.4,244.1 L562.9,244.5 L564.4,245.0 L565.9,245.4 L567.4,245.9 L568.9,246.4 L570.4,246.8 L571.9,247.3 L573.4,247.8 L574.9,248.2 L576.4,248.7 L577.9,249.1 L579.4,249.6 L580.9,250.1 L582.4,250.5 L583.9,251.0 L585.4,251.4 L586.9,251.9 L588.4,252.4 L589.9,252.8 L591.4,253.3 L592.9,253.7 L594.4,254.2 L595.9,254.7 L597.4,255.1 L598.9,255.6 L600.4,256.0 L601.9,256.5 L603.4,256.9 L604.9,257.4 L606.4,257.9 L607.9,258.3 L609.4,258.8 L610.9,259.2 L612.4,259.7 L613.9,260.1 L615.4,260.6 L616.9,261.1 L618.4,261.5 L619.9,262.0 L621.4,262.4 L622.9,262.9 L624.4,263.3 L625.9,263.8 L627.4,264.2 L628.9,264.7 L630.4,265.1 L631.9,265.6 L633.4,266.0 L634.9,266.5 L636.4,266.9 L637.9,267.4 L639.4,267.8 L640.9,268.3 L642.4,268.7 L643.9,269.2 L645.4,269.6 L646.9,270.1 L648.4,270.5 L649.9,271.0 L651.4,271.4 L652.9,271.9 L654.4,272.3 L655.9,272.8 L657.4,273.2 L658.9,273.7 L660.4,274.1 L661.9,274.6 L663.4,275.0 L664.9,275.5 L666.4,275.9 L667.9,276.4 L669.4,276.8 L670.9,277.2 L672.4,277.7 L673.9,278.1 L675.4,278.6 L676.9,279.0 L678.4,279.5 L679.9,279.9 L681.4,280.3 L682.9,280.8 L684.4,281.2 L685.9,281.7 L687.4,282.1 L688.9,282.5 L690.4,283.0 L691.9,283.4 L693.4,283.9 L694.9,284.3 L696.4,284.7 L697.9,285.2 L699.4,285.6 L700.9,286.0 L702.4,286.5 L703.9,286.9 L705.4,287.4 L706.9,287.8 L708.4,288.2 L709.9,288.7 L711.4,289.1 L712.9,289.5 L714.4,290.0" fill="none" stroke="#064d06" stroke-width="3.6" stroke-linecap="butt" stroke-linejoin="round"/>
<path d="M121.9,272.7 L123.4,267.8 L124.9,263.1 L126.4,258.6 L127.9,254.4 L129.4,250.4 L130.9,246.5 L132.4,242.9 L133.9,239.5 L135.4,236.2 L136.9,233.0 L138.4,230.0 L139.9,227.2 L141.4,224.4 L142.9,221.8 L144.4,219.3 L145.9,216.9 L147.4,214.6 L148.9,212.4 L150.4,210.3 L151.9,208.3 L153.4,206.3 L154.9,204.5 L156.4,202.7 L157.9,201.0 L159.4,199.3 L160.9,197.8 L162.4,196.2 L163.9,194.8 L165.4,193.4 L166.9,192.1 L168.4,190.8 L169.9,189.5 L171.4,188.3 L172.9,187.2 L174.4,186.1 L175.9,185.1 L177.4,184.0 L178.9,183.1 L180.4,182.2 L181.9,181.3 L183.4,180.4 L184.9,179.6 L186.4,178.8 L187.9,178.0 L189.4,177.3 L190.9,176.6 L192.4,176.0 L193.9,175.3 L195.4,174.7 L196.9,174.2 L198.4,173.6 L199.9,173.1 L201.4,172.6 L202.9,172.1 L204.4,171.7 L205.9,171.2 L207.4,170.8 L208.9,170.4 L210.4,170.1 L211.9,169.7 L213.4,169.4 L214.9,169.1 L216.4,168.8 L217.9,168.5 L219.4,168.2 L220.9,168.0 L222.4,167.8 L223.9,167.6 L225.4,167.4 L226.9,167.2 L228.4,167.0 L229.9,166.9 L231.4,166.8 L232.9,166.6 L234.4,166.5 L235.9,166.4 L237.4,166.4 L238.9,166.3 L240.4,166.2 L241.9,166.2 L243.4,166.2 L244.9,166.1 L246.4,166.1 L247.9,166.1 L249.4,166.1 L250.9,166.2 L252.4,166.2 L253.9,166.2 L255.4,166.3 L256.9,166.3 L258.4,166.4 L259.9,166.5 L261.4,166.6 L262.9,166.7 L264.4,166.8 L265.9,166.9 L267.4,167.0 L268.9,167.1 L270.4,167.2 L271.9,167.4 L273.4,167.5 L274.9,167.7 L276.4,167.8 L277.9,168.0 L279.4,168.2 L280.9,168.4 L282.4,168.5 L283.9,168.7 L285.4,168.9 L286.9,169.1 L288.4,169.3 L289.9,169.6 L291.4,169.8 L292.9,170.0 L294.4,170.2 L295.9,170.5 L297.4,170.7 L298.9,171.0 L300.4,171.2 L301.9,171.5 L303.4,171.7 L304.9,172.0 L306.4,172.3 L307.9,172.5 L309.4,172.8 L310.9,173.1 L312.4,173.4 L313.9,173.7 L315.4,174.0 L316.9,174.3 L318.4,174.6 L319.9,174.9 L321.4,175.2 L322.9,175.5 L324.4,175.8 L325.9,176.2 L327.4,176.5 L328.9,176.8 L330.4,177.1 L331.9,177.5 L333.4,177.8 L334.9,178.1 L336.4,178.5 L337.9,178.8 L339.4,179.2 L340.9,179.5 L342.4,179.9 L343.9,180.2 L345.4,180.6 L346.9,181.0 L348.4,181.3 L349.9,181.7 L351.4,182.1 L352.9,182.4 L354.4,182.8 L355.9,183.2 L357.4,183.6 L358.9,183.9 L360.4,184.3 L361.9,184.7 L363.4,185.1 L364.9,185.5 L366.4,185.9 L367.9,186.3 L369.4,186.7 L370.9,187.0 L372.4,187.4 L373.9,187.8 L375.4,188.2 L376.9,188.7 L378.4,189.1 L379.9,189.5 L381.4,189.9 L382.9,190.3 L384.4,190.7 L385.9,191.1 L387.4,191.5 L388.9,191.9 L390.4,192.3 L391.9,192.8 L393.4,193.2 L394.9,193.6 L396.4,194.0 L397.9,194.5 L399.4,194.9 L400.9,195.3 L402.4,195.7 L403.9,196.2 L405.4,196.6 L406.9,197.0 L408.4,197.4 L409.9,197.9 L411.4,198.3 L412.9,198.7 L414.4,199.2 L415.9,199.6 L417.4,200.1 L418.9,200.5 L420.4,200.9 L421.9,201.4 L423.4,201.8 L424.9,202.3 L426.4,202.7 L427.9,203.1 L429.4,203.6 L430.9,204.0 L432.4,204.5 L433.9,204.9 L435.4,205.4 L436.9,205.8 L438.4,206.3 L439.9,206.7 L441.4,207.2 L442.9,207.6 L444.4,208.1 L445.9,208.5 L447.4,209.0 L448.9,209.4 L450.4,209.9 L451.9,210.3 L453.4,210.8 L454.9,211.2 L456.4,211.7 L457.9,212.1 L459.4,212.6 L460.9,213.1 L462.4,213.5 L463.9,214.0 L465.4,214.4 L466.9,214.9 L468.4,215.3 L469.9,215.8 L471.4,216.3 L472.9,216.7 L474.4,217.2 L475.9,217.6 L477.4,218.1 L478.9,218.6 L480.4,219.0 L481.9,219.5 L483.4,219.9 L484.9,220.4 L486.4,220.9 L487.9,221.3 L489.4,221.8 L490.9,222.2 L492.4,222.7 L493.9,223.2 L495.4,223.6 L496.9,224.1 L498.4,224.6 L499.9,225.0 L501.4,225.5 L502.9,226.0 L504.4,226.4 L505.9,226.9 L507.4,227.3 L508.9,227.8 L510.4,228.3 L511.9,228.7 L513.4,229.2 L514.9,229.7 L516.4,230.1 L517.9,230.6 L519.4,231.1 L520.9,231.5 L522.4,232.0 L523.9,232.5 L525.4,232.9 L526.9,233.4 L528.4,233.8 L529.9,234.3 L531.4,234.8 L532.9,235.2 L534.4,235.7 L535.9,236.2 L537.4,236.6 L538.9,237.1 L540.4,237.6 L541.9,238.0 L543.4,238.5 L544.9,239.0 L546.4,239.4 L547.9,239.9 L549.4,240.3 L550.9,240.8 L552.4,241.3 L553.9,241.7 L555.4,242.2 L556.9,242.7 L558.4,243.1 L559.9,243.6 L561.4,244.1 L562.9,244.5 L564.4,245.0 L565.9,245.4 L567.4,245.9 L568.9,246.4 L570.4,246.8 L571.9,247.3 L573.4,247.8 L574.9,248.2 L576.4,248.7 L577.9,249.1 L579.4,249.6 L580.9,250.1 L582.4,250.5 L583.9,251.0 L585.4,251.4 L586.9,251.9 L588.4,252.4 L589.9,252.8 L591.4,253.3 L592.9,253.7 L594.4,254.2 L595.9,254.7 L597.4,255.1 L598.9,255.6 L600.4,256.0 L601.9,256.5 L603.4,256.9 L604.9,257.4 L606.4,257.9 L607.9,258.3 L609.4,258.8 L610.9,259.2 L612.4,259.7 L613.9,260.1 L615.4,260.6 L616.9,261.1 L618.4,261.5 L619.9,262.0 L621.4,262.4 L622.9,262.9 L624.4,263.3 L625.9,263.8 L627.4,264.2 L628.9,264.7 L630.4,265.1 L631.9,265.6 L633.4,266.0 L634.9,266.5 L636.4,266.9 L637.9,267.4 L639.4,267.8 L640.9,268.3 L642.4,268.7 L643.9,269.2 L645.4,269.6 L646.9,270.1 L648.4,270.5 L649.9,271.0 L651.4,271.4 L652.9,271.9 L654.4,272.3 L655.9,272.8 L657.4,273.2 L658.9,273.7 L660.4,274.1 L661.9,274.6 L663.4,275.0 L664.9,275.5 L666.4,275.9 L667.9,276.4 L669.4,276.8 L670.9,277.2 L672.4,277.7 L673.9,278.1 L675.4,278.6 L676.9,279.0 L678.4,279.5 L679.9,279.9 L681.4,280.3 L682.9,280.8 L684.4,281.2 L685.9,281.7 L687.4,282.1 L688.9,282.5 L690.4,283.0 L691.9,283.4 L693.4,283.9 L694.9,284.3 L696.4,284.7 L697.9,285.2 L699.4,285.6 L700.9,286.0 L702.4,286.5 L703.9,286.9 L705.4,287.4 L706.9,287.8 L708.4,288.2 L709.9,288.7 L711.4,289.1 L712.9,289.5 L714.4,290.0" fill="none" stroke="#1ee024" stroke-width="1.7" stroke-linecap="butt" stroke-linejoin="round"/>
<path d="M897.1,362.3 L898.6,357.8 L900.1,353.5 L901.6,349.5 L903.1,345.6 L904.6,341.9 L906.1,338.4 L907.6,335.0 L909.1,331.8 L910.6,328.7 L912.1,325.8 L913.6,323.0 L915.1,320.3 L916.6,317.8 L918.1,315.3 L919.6,312.9 L921.1,310.7 L922.6,308.5 L924.1,306.5 L925.6,304.5 L927.1,302.6 L928.6,300.8 L930.1,299.1 L931.6,297.4 L933.1,295.8 L934.6,294.3 L936.1,292.8 L937.6,291.4 L939.1,290.0 L940.6,288.7 L942.1,287.5 L943.6,286.3 L945.1,285.2 L946.6,284.1 L948.1,283.0 L949.6,282.0 L951.1,281.0 L952.6,280.1 L954.1,279.2 L955.6,278.4 L957.1,277.6 L958.6,276.8 L960.1,276.1 L961.6,275.4 L963.1,274.7 L964.6,274.0 L966.1,273.4 L967.6,272.8 L969.1,272.3 L970.6,271.7 L972.1,271.2 L973.6,270.8 L975.1,270.3 L976.6,269.9 L978.1,269.4 L979.6,269.1 L981.1,268.7 L982.6,268.3 L984.1,268.0 L985.6,267.7 L987.1,267.4 L988.6,267.1 L990.1,266.9 L991.6,266.6 L993.1,266.4 L994.6,266.2 L996.1,266.0 L997.6,265.8 L999.1,265.7 L1000.6,265.5 L1002.1,265.4 L1003.6,265.3 L1005.1,265.2 L1006.6,265.1 L1008.1,265.0 L1009.6,264.9 L1011.1,264.9 L1012.6,264.8 L1014.1,264.8 L1015.6,264.8 L1017.1,264.8 L1018.6,264.8 L1020.1,264.8 L1021.6,264.8 L1023.1,264.8 L1024.6,264.9 L1026.1,264.9 L1027.6,265.0 L1029.1,265.0 L1030.6,265.1 L1032.1,265.2 L1033.6,265.3 L1035.1,265.4 L1036.6,265.5 L1038.1,265.6 L1039.6,265.7 L1041.1,265.9 L1042.6,266.0 L1044.1,266.1 L1045.6,266.3 L1047.1,266.4 L1048.6,266.6 L1050.1,266.8 L1051.6,266.9 L1053.1,267.1 L1054.6,267.3 L1056.1,267.5 L1057.6,267.7 L1059.1,267.9 L1060.6,268.1 L1062.1,268.3 L1063.6,268.5 L1065.1,268.7 L1066.6,269.0 L1068.1,269.2 L1069.6,269.4 L1071.1,269.7 L1072.6,269.9 L1074.1,270.2 L1075.6,270.4 L1077.1,270.7 L1078.6,270.9 L1080.1,271.2 L1081.6,271.5 L1083.1,271.7 L1084.6,272.0 L1086.1,272.3 L1087.6,272.6 L1089.1,272.9 L1090.6,273.1 L1092.1,273.4 L1093.6,273.7 L1095.1,274.0 L1096.6,274.3 L1098.1,274.6 L1099.6,275.0 L1101.1,275.3 L1102.6,275.6 L1104.1,275.9 L1105.6,276.2 L1107.1,276.5 L1108.6,276.9 L1110.1,277.2 L1111.6,277.5 L1113.1,277.9 L1114.6,278.2 L1116.1,278.5 L1117.6,278.9 L1119.1,279.2 L1120.6,279.6 L1122.1,279.9 L1123.6,280.2 L1125.1,280.6 L1126.6,280.9 L1128.1,281.3 L1129.6,281.7 L1131.1,282.0 L1132.6,282.4 L1134.1,282.7 L1135.6,283.1 L1137.1,283.5 L1138.6,283.8 L1140.1,284.2 L1141.6,284.6 L1143.1,284.9 L1144.6,285.3 L1146.1,285.7 L1147.6,286.1 L1149.1,286.5 L1150.6,286.8 L1152.1,287.2 L1153.6,287.6 L1155.1,288.0 L1156.6,288.4 L1158.1,288.8 L1159.6,289.1 L1161.1,289.5 L1162.6,289.9 L1164.1,290.3 L1165.6,290.7 L1167.1,291.1 L1168.6,291.5 L1170.1,291.9 L1171.6,292.3 L1173.1,292.7 L1174.6,293.1 L1176.1,293.5 L1177.6,293.9 L1179.1,294.3 L1180.6,294.7 L1182.1,295.1 L1183.6,295.5 L1185.1,295.9 L1186.6,296.3 L1188.1,296.7 L1189.6,297.1 L1191.1,297.6 L1192.6,298.0 L1194.1,298.4 L1195.6,298.8 L1197.1,299.2 L1198.6,299.6 L1200.1,300.0 L1201.6,300.5 L1203.1,300.9 L1204.6,301.3 L1206.1,301.7 L1207.6,302.1 L1209.1,302.5 L1210.6,303.0 L1212.1,303.4 L1213.6,303.8 L1215.1,304.2 L1216.6,304.6 L1218.1,305.1 L1219.6,305.5 L1221.1,305.9 L1222.6,306.3 L1224.1,306.8 L1225.6,307.2 L1227.1,307.6 L1228.6,308.0 L1230.1,308.5 L1231.6,308.9 L1233.1,309.3 L1234.6,309.8 L1236.1,310.2 L1237.6,310.6 L1239.1,311.0 L1240.6,311.5 L1242.1,311.9 L1243.6,312.3 L1245.1,312.8 L1246.6,313.2 L1248.1,313.6 L1249.6,314.1 L1251.1,314.5 L1252.6,314.9 L1254.1,315.4 L1255.6,315.8 L1257.1,316.2 L1258.6,316.7 L1260.1,317.1 L1261.6,317.5 L1263.1,318.0 L1264.6,318.4 L1266.1,318.9 L1267.6,319.3 L1269.1,319.7 L1270.6,320.2 L1272.1,320.6 L1273.6,321.0 L1275.1,321.5 L1276.6,321.9 L1278.1,322.4 L1279.6,322.8 L1281.1,323.2 L1282.6,323.7 L1284.1,324.1 L1285.6,324.5 L1287.1,325.0 L1288.6,325.4 L1290.1,325.9 L1291.6,326.3 L1293.1,326.7 L1294.6,327.2 L1296.1,327.6 L1297.6,328.1 L1299.1,328.5 L1300.6,328.9 L1302.1,329.4 L1303.6,329.8 L1305.1,330.3 L1306.6,330.7 L1308.1,331.2 L1309.6,331.6 L1311.1,332.0 L1312.6,332.5 L1314.1,332.9 L1315.6,333.4 L1317.1,333.8 L1318.6,334.2 L1320.1,334.7 L1321.6,335.1 L1323.1,335.6 L1324.6,336.0 L1326.1,336.5 L1327.6,336.9 L1329.1,337.3 L1330.6,337.8 L1332.1,338.2 L1333.6,338.7 L1335.1,339.1 L1336.6,339.6 L1338.1,340.0 L1339.6,340.4 L1341.1,340.9 L1342.6,341.3 L1344.1,341.8 L1345.6,342.2 L1347.1,342.7 L1348.6,343.1 L1350.1,343.5 L1351.6,344.0 L1353.1,344.4 L1354.6,344.9 L1356.1,345.3 L1357.6,345.8 L1359.1,346.2 L1360.6,346.6 L1362.1,347.1 L1363.6,347.5 L1365.1,348.0 L1366.6,348.4 L1368.1,348.8 L1369.6,349.3 L1371.1,349.7 L1372.6,350.2 L1374.1,350.6 L1375.6,351.1 L1377.1,351.5 L1378.6,351.9 L1380.1,352.4 L1381.6,352.8 L1383.1,353.3 L1384.6,353.7 L1386.1,354.2 L1387.6,354.6 L1389.1,355.0 L1390.6,355.5 L1392.1,355.9 L1393.6,356.4 L1395.1,356.8 L1396.6,357.3 L1398.1,357.7 L1399.6,358.1 L1401.1,358.6 L1402.6,359.0 L1404.1,359.5 L1405.6,359.9 L1407.1,360.3 L1408.6,360.8 L1410.1,361.2 L1411.6,361.7 L1413.1,362.1 L1414.6,362.5 L1416.1,363.0 L1417.6,363.4 L1419.1,363.9 L1420.6,364.3 L1422.1,364.7 L1423.6,365.2 L1425.1,365.6 L1426.6,366.1 L1428.1,366.5 L1429.6,366.9 L1431.1,367.4 L1432.6,367.8 L1434.1,368.3 L1435.6,368.7 L1437.1,369.1 L1438.6,369.6 L1440.1,370.0 L1441.6,370.5 L1443.1,370.9 L1444.6,371.3 L1446.1,371.8 L1447.6,372.2 L1449.1,372.7 L1450.6,373.1 L1452.1,373.5 L1453.6,374.0 L1455.1,374.4 L1456.6,374.8 L1458.1,375.3 L1459.6,375.7 L1461.1,376.2 L1462.6,376.6 L1464.1,377.0 L1465.6,377.5 L1467.1,377.9 L1468.6,378.3 L1470.1,378.8 L1471.6,379.2 L1473.1,379.7 L1474.6,380.1 L1476.1,380.5 L1477.6,381.0 L1479.1,381.4 L1480.6,381.8 L1482.1,382.3 L1483.6,382.7 L1485.1,383.1 L1486.6,383.6 L1488.1,384.0 L1489.6,384.4 L1490.0,384.6" fill="none" stroke="#064d06" stroke-width="3.6" stroke-linecap="butt" stroke-linejoin="round"/>
<path d="M897.1,362.3 L898.6,357.8 L900.1,353.5 L901.6,349.5 L903.1,345.6 L904.6,341.9 L906.1,338.4 L907.6,335.0 L909.1,331.8 L910.6,328.7 L912.1,325.8 L913.6,323.0 L915.1,320.3 L916.6,317.8 L918.1,315.3 L919.6,312.9 L921.1,310.7 L922.6,308.5 L924.1,306.5 L925.6,304.5 L927.1,302.6 L928.6,300.8 L930.1,299.1 L931.6,297.4 L933.1,295.8 L934.6,294.3 L936.1,292.8 L937.6,291.4 L939.1,290.0 L940.6,288.7 L942.1,287.5 L943.6,286.3 L945.1,285.2 L946.6,284.1 L948.1,283.0 L949.6,282.0 L951.1,281.0 L952.6,280.1 L954.1,279.2 L955.6,278.4 L957.1,277.6 L958.6,276.8 L960.1,276.1 L961.6,275.4 L963.1,274.7 L964.6,274.0 L966.1,273.4 L967.6,272.8 L969.1,272.3 L970.6,271.7 L972.1,271.2 L973.6,270.8 L975.1,270.3 L976.6,269.9 L978.1,269.4 L979.6,269.1 L981.1,268.7 L982.6,268.3 L984.1,268.0 L985.6,267.7 L987.1,267.4 L988.6,267.1 L990.1,266.9 L991.6,266.6 L993.1,266.4 L994.6,266.2 L996.1,266.0 L997.6,265.8 L999.1,265.7 L1000.6,265.5 L1002.1,265.4 L1003.6,265.3 L1005.1,265.2 L1006.6,265.1 L1008.1,265.0 L1009.6,264.9 L1011.1,264.9 L1012.6,264.8 L1014.1,264.8 L1015.6,264.8 L1017.1,264.8 L1018.6,264.8 L1020.1,264.8 L1021.6,264.8 L1023.1,264.8 L1024.6,264.9 L1026.1,264.9 L1027.6,265.0 L1029.1,265.0 L1030.6,265.1 L1032.1,265.2 L1033.6,265.3 L1035.1,265.4 L1036.6,265.5 L1038.1,265.6 L1039.6,265.7 L1041.1,265.9 L1042.6,266.0 L1044.1,266.1 L1045.6,266.3 L1047.1,266.4 L1048.6,266.6 L1050.1,266.8 L1051.6,266.9 L1053.1,267.1 L1054.6,267.3 L1056.1,267.5 L1057.6,267.7 L1059.1,267.9 L1060.6,268.1 L1062.1,268.3 L1063.6,268.5 L1065.1,268.7 L1066.6,269.0 L1068.1,269.2 L1069.6,269.4 L1071.1,269.7 L1072.6,269.9 L1074.1,270.2 L1075.6,270.4 L1077.1,270.7 L1078.6,270.9 L1080.1,271.2 L1081.6,271.5 L1083.1,271.7 L1084.6,272.0 L1086.1,272.3 L1087.6,272.6 L1089.1,272.9 L1090.6,273.1 L1092.1,273.4 L1093.6,273.7 L1095.1,274.0 L1096.6,274.3 L1098.1,274.6 L1099.6,275.0 L1101.1,275.3 L1102.6,275.6 L1104.1,275.9 L1105.6,276.2 L1107.1,276.5 L1108.6,276.9 L1110.1,277.2 L1111.6,277.5 L1113.1,277.9 L1114.6,278.2 L1116.1,278.5 L1117.6,278.9 L1119.1,279.2 L1120.6,279.6 L1122.1,279.9 L1123.6,280.2 L1125.1,280.6 L1126.6,280.9 L1128.1,281.3 L1129.6,281.7 L1131.1,282.0 L1132.6,282.4 L1134.1,282.7 L1135.6,283.1 L1137.1,283.5 L1138.6,283.8 L1140.1,284.2 L1141.6,284.6 L1143.1,284.9 L1144.6,285.3 L1146.1,285.7 L1147.6,286.1 L1149.1,286.5 L1150.6,286.8 L1152.1,287.2 L1153.6,287.6 L1155.1,288.0 L1156.6,288.4 L1158.1,288.8 L1159.6,289.1 L1161.1,289.5 L1162.6,289.9 L1164.1,290.3 L1165.6,290.7 L1167.1,291.1 L1168.6,291.5 L1170.1,291.9 L1171.6,292.3 L1173.1,292.7 L1174.6,293.1 L1176.1,293.5 L1177.6,293.9 L1179.1,294.3 L1180.6,294.7 L1182.1,295.1 L1183.6,295.5 L1185.1,295.9 L1186.6,296.3 L1188.1,296.7 L1189.6,297.1 L1191.1,297.6 L1192.6,298.0 L1194.1,298.4 L1195.6,298.8 L1197.1,299.2 L1198.6,299.6 L1200.1,300.0 L1201.6,300.5 L1203.1,300.9 L1204.6,301.3 L1206.1,301.7 L1207.6,302.1 L1209.1,302.5 L1210.6,303.0 L1212.1,303.4 L1213.6,303.8 L1215.1,304.2 L1216.6,304.6 L1218.1,305.1 L1219.6,305.5 L1221.1,305.9 L1222.6,306.3 L1224.1,306.8 L1225.6,307.2 L1227.1,307.6 L1228.6,308.0 L1230.1,308.5 L1231.6,308.9 L1233.1,309.3 L1234.6,309.8 L1236.1,310.2 L1237.6,310.6 L1239.1,311.0 L1240.6,311.5 L1242.1,311.9 L1243.6,312.3 L1245.1,312.8 L1246.6,313.2 L1248.1,313.6 L1249.6,314.1 L1251.1,314.5 L1252.6,314.9 L1254.1,315.4 L1255.6,315.8 L1257.1,316.2 L1258.6,316.7 L1260.1,317.1 L1261.6,317.5 L1263.1,318.0 L1264.6,318.4 L1266.1,318.9 L1267.6,319.3 L1269.1,319.7 L1270.6,320.2 L1272.1,320.6 L1273.6,321.0 L1275.1,321.5 L1276.6,321.9 L1278.1,322.4 L1279.6,322.8 L1281.1,323.2 L1282.6,323.7 L1284.1,324.1 L1285.6,324.5 L1287.1,325.0 L1288.6,325.4 L1290.1,325.9 L1291.6,326.3 L1293.1,326.7 L1294.6,327.2 L1296.1,327.6 L1297.6,328.1 L1299.1,328.5 L1300.6,328.9 L1302.1,329.4 L1303.6,329.8 L1305.1,330.3 L1306.6,330.7 L1308.1,331.2 L1309.6,331.6 L1311.1,332.0 L1312.6,332.5 L1314.1,332.9 L1315.6,333.4 L1317.1,333.8 L1318.6,334.2 L1320.1,334.7 L1321.6,335.1 L1323.1,335.6 L1324.6,336.0 L1326.1,336.5 L1327.6,336.9 L1329.1,337.3 L1330.6,337.8 L1332.1,338.2 L1333.6,338.7 L1335.1,339.1 L1336.6,339.6 L1338.1,340.0 L1339.6,340.4 L1341.1,340.9 L1342.6,341.3 L1344.1,341.8 L1345.6,342.2 L1347.1,342.7 L1348.6,343.1 L1350.1,343.5 L1351.6,344.0 L1353.1,344.4 L1354.6,344.9 L1356.1,345.3 L1357.6,345.8 L1359.1,346.2 L1360.6,346.6 L1362.1,347.1 L1363.6,347.5 L1365.1,348.0 L1366.6,348.4 L1368.1,348.8 L1369.6,349.3 L1371.1,349.7 L1372.6,350.2 L1374.1,350.6 L1375.6,351.1 L1377.1,351.5 L1378.6,351.9 L1380.1,352.4 L1381.6,352.8 L1383.1,353.3 L1384.6,353.7 L1386.1,354.2 L1387.6,354.6 L1389.1,355.0 L1390.6,355.5 L1392.1,355.9 L1393.6,356.4 L1395.1,356.8 L1396.6,357.3 L1398.1,357.7 L1399.6,358.1 L1401.1,358.6 L1402.6,359.0 L1404.1,359.5 L1405.6,359.9 L1407.1,360.3 L1408.6,360.8 L1410.1,361.2 L1411.6,361.7 L1413.1,362.1 L1414.6,362.5 L1416.1,363.0 L1417.6,363.4 L1419.1,363.9 L1420.6,364.3 L1422.1,364.7 L1423.6,365.2 L1425.1,365.6 L1426.6,366.1 L1428.1,366.5 L1429.6,366.9 L1431.1,367.4 L1432.6,367.8 L1434.1,368.3 L1435.6,368.7 L1437.1,369.1 L1438.6,369.6 L1440.1,370.0 L1441.6,370.5 L1443.1,370.9 L1444.6,371.3 L1446.1,371.8 L1447.6,372.2 L1449.1,372.7 L1450.6,373.1 L1452.1,373.5 L1453.6,374.0 L1455.1,374.4 L1456.6,374.8 L1458.1,375.3 L1459.6,375.7 L1461.1,376.2 L1462.6,376.6 L1464.1,377.0 L1465.6,377.5 L1467.1,377.9 L1468.6,378.3 L1470.1,378.8 L1471.6,379.2 L1473.1,379.7 L1474.6,380.1 L1476.1,380.5 L1477.6,381.0 L1479.1,381.4 L1480.6,381.8 L1482.1,382.3 L1483.6,382.7 L1485.1,383.1 L1486.6,383.6 L1488.1,384.0 L1489.6,384.4 L1490.0,384.6" fill="none" stroke="#1ee024" stroke-width="1.7" stroke-linecap="butt" stroke-linejoin="round"/>
<path d="M122.0,768.4 L123.5,773.4 L125.0,778.2 L126.5,782.8 L128.0,787.0 L129.5,791.1 L131.0,794.9 L132.5,798.5 L134.0,802.0 L135.5,805.2 L137.0,808.4 L138.5,811.4 L140.0,814.2 L141.5,816.9 L143.0,819.5 L144.5,822.0 L146.0,824.4 L147.5,826.7 L149.0,828.9 L150.5,831.0 L152.0,833.0 L153.5,835.0 L155.0,836.8 L156.5,838.6 L158.0,840.4 L159.5,842.0 L161.0,843.6 L162.5,845.2 L164.0,846.7 L165.5,848.1 L167.0,849.5 L168.5,850.8 L170.0,852.1 L171.5,853.3 L173.0,854.5 L174.5,855.7 L176.0,856.8 L177.5,857.9 L179.0,858.9 L180.5,859.9 L182.0,860.9 L183.5,861.8 L185.0,862.7 L186.5,863.6 L188.0,864.4 L189.5,865.2 L191.0,866.0 L192.5,866.8 L194.0,867.5 L195.5,868.2 L197.0,868.9 L198.5,869.6 L200.0,870.2 L201.5,870.8 L203.0,871.4 L204.5,871.9 L206.0,872.5 L207.5,873.0 L209.0,873.5 L210.5,874.0 L212.0,874.5 L213.5,874.9 L215.0,875.4 L216.5,875.8 L218.0,876.2 L219.5,876.5 L221.0,876.9 L222.5,877.3 L224.0,877.6 L225.5,877.9 L227.0,878.2 L228.5,878.5 L230.0,878.8 L231.5,879.1 L233.0,879.3 L234.5,879.6 L236.0,879.8 L237.5,880.0 L239.0,880.2 L240.5,880.4 L242.0,880.6 L243.5,880.8 L245.0,880.9 L246.5,881.1 L248.0,881.2 L249.5,881.3 L251.0,881.5 L252.5,881.6 L254.0,881.7 L255.5,881.8 L257.0,881.8 L258.5,881.9 L260.0,882.0 L261.5,882.0 L263.0,882.1 L264.5,882.1 L266.0,882.2 L267.5,882.2 L269.0,882.2 L270.5,882.2 L272.0,882.2 L273.5,882.2 L275.0,882.2 L276.5,882.2 L278.0,882.2 L279.5,882.1 L281.0,882.1 L282.5,882.1 L284.0,882.0 L285.5,882.0 L287.0,881.9 L288.5,881.8 L290.0,881.8 L291.5,881.7 L293.0,881.6 L294.5,881.5 L296.0,881.4 L297.5,881.3 L299.0,881.2 L300.5,881.1 L302.0,881.0 L303.5,880.9 L305.0,880.7 L306.5,880.6 L308.0,880.5 L309.5,880.3 L311.0,880.2 L312.5,880.1 L314.0,879.9 L315.5,879.8 L317.0,879.6 L318.5,879.4 L320.0,879.3 L321.5,879.1 L323.0,878.9 L324.5,878.8 L326.0,878.6 L327.5,878.4 L329.0,878.2 L330.5,878.0 L332.0,877.8 L333.5,877.6 L335.0,877.4 L336.5,877.2 L338.0,877.0 L339.5,876.8 L341.0,876.6 L342.5,876.4 L344.0,876.2 L345.5,875.9 L347.0,875.7 L348.5,875.5 L350.0,875.3 L351.5,875.0 L353.0,874.8 L354.5,874.6 L356.0,874.3 L357.5,874.1 L359.0,873.8 L360.5,873.6 L362.0,873.3 L363.5,873.1 L365.0,872.8 L366.5,872.6 L368.0,872.3 L369.5,872.1 L371.0,871.8 L372.5,871.5 L374.0,871.3 L375.5,871.0 L377.0,870.7 L378.5,870.5 L380.0,870.2 L381.5,869.9 L383.0,869.6 L384.5,869.4 L386.0,869.1 L387.5,868.8 L389.0,868.5 L390.5,868.2 L392.0,867.9 L393.5,867.6 L395.0,867.4 L396.5,867.1 L398.0,866.8 L399.5,866.5 L401.0,866.2 L402.5,865.9 L404.0,865.6 L405.5,865.3 L407.0,865.0 L408.5,864.7 L410.0,864.4 L411.5,864.1 L413.0,863.8 L414.5,863.5 L416.0,863.2 L417.5,862.8 L419.0,862.5 L420.5,862.2 L422.0,861.9 L423.5,861.6 L425.0,861.3 L426.5,861.0 L428.0,860.6 L429.5,860.3 L431.0,860.0 L432.5,859.7 L434.0,859.4 L435.5,859.0 L437.0,858.7 L438.5,858.4 L440.0,858.1 L441.5,857.8 L443.0,857.4 L444.5,857.1 L446.0,856.8 L447.5,856.4 L449.0,856.1 L450.5,855.8 L452.0,855.5 L453.5,855.1 L455.0,854.8 L456.5,854.5 L458.0,854.1 L459.5,853.8 L461.0,853.5 L462.5,853.1 L464.0,852.8 L465.5,852.5 L467.0,852.1 L468.5,851.8 L470.0,851.4 L471.5,851.1 L473.0,850.8 L474.5,850.4 L476.0,850.1 L477.5,849.8 L479.0,849.4 L480.5,849.1 L482.0,848.7 L483.5,848.4 L485.0,848.1 L486.5,847.7 L488.0,847.4 L489.5,847.0 L491.0,846.7 L492.5,846.3 L494.0,846.0 L495.5,845.6 L497.0,845.3 L498.5,845.0 L500.0,844.6 L501.5,844.3 L503.0,843.9 L504.5,843.6 L506.0,843.2 L507.5,842.9 L509.0,842.5 L510.5,842.2 L512.0,841.8 L513.5,841.5 L515.0,841.2 L516.5,840.8 L518.0,840.5 L519.5,840.1 L521.0,839.8 L522.5,839.4 L524.0,839.1 L525.5,838.7 L527.0,838.4 L528.5,838.0 L530.0,837.7 L531.5,837.3 L533.0,837.0 L534.5,836.6 L536.0,836.3 L537.5,835.9 L539.0,835.6 L540.5,835.2 L542.0,834.9 L543.5,834.5 L545.0,834.2 L546.5,833.8 L548.0,833.5 L549.5,833.1 L551.0,832.8 L552.5,832.4 L554.0,832.1 L555.5,831.7 L557.0,831.4 L558.5,831.0 L560.0,830.7 L561.5,830.3 L563.0,830.0 L564.5,829.6 L566.0,829.3 L567.5,828.9 L569.0,828.6 L570.5,828.2 L572.0,827.9 L573.5,827.5 L575.0,827.2 L576.5,826.8 L578.0,826.5 L579.5,826.1 L581.0,825.8 L582.5,825.4 L584.0,825.1 L585.5,824.8 L587.0,824.4 L588.5,824.1 L590.0,823.7 L591.5,823.4 L593.0,823.0 L594.5,822.7 L596.0,822.3 L597.5,822.0 L599.0,821.6 L600.5,821.3 L602.0,820.9 L603.5,820.6 L605.0,820.2 L606.5,819.9 L608.0,819.5 L609.5,819.2 L611.0,818.9 L612.5,818.5 L614.0,818.2 L615.5,817.8 L617.0,817.5 L618.5,817.1 L620.0,816.8 L621.5,816.4 L623.0,816.1 L624.5,815.8 L626.0,815.4 L627.5,815.1 L629.0,814.7 L630.5,814.4 L632.0,814.0 L633.5,813.7 L635.0,813.4 L636.5,813.0 L638.0,812.7 L639.5,812.3 L641.0,812.0 L642.5,811.7 L644.0,811.3 L645.5,811.0 L647.0,810.6 L648.5,810.3 L650.0,810.0 L651.5,809.6 L653.0,809.3 L654.5,808.9 L656.0,808.6 L657.5,808.3 L659.0,807.9 L660.5,807.6 L662.0,807.3 L663.5,806.9 L665.0,806.6 L666.5,806.2 L668.0,805.9 L669.5,805.6 L671.0,805.2 L672.5,804.9 L674.0,804.6 L675.5,804.2 L677.0,803.9 L678.5,803.6 L680.0,803.2 L681.5,802.9 L683.0,802.6 L684.5,802.2 L686.0,801.9 L687.5,801.6 L689.0,801.2 L690.5,800.9 L692.0,800.6 L693.5,800.2 L695.0,799.9 L696.5,799.6 L698.0,799.3 L699.5,798.9 L701.0,798.6 L702.5,798.3 L704.0,797.9 L705.5,797.6 L707.0,797.3 L708.5,797.0 L710.0,796.6 L711.5,796.3 L713.0,796.0 L714.5,795.7 L714.6,795.6" fill="none" stroke="#064d06" stroke-width="3.6" stroke-linecap="butt" stroke-linejoin="round"/>
<path d="M122.0,768.4 L123.5,773.4 L125.0,778.2 L126.5,782.8 L128.0,787.0 L129.5,791.1 L131.0,794.9 L132.5,798.5 L134.0,802.0 L135.5,805.2 L137.0,808.4 L138.5,811.4 L140.0,814.2 L141.5,816.9 L143.0,819.5 L144.5,822.0 L146.0,824.4 L147.5,826.7 L149.0,828.9 L150.5,831.0 L152.0,833.0 L153.5,835.0 L155.0,836.8 L156.5,838.6 L158.0,840.4 L159.5,842.0 L161.0,843.6 L162.5,845.2 L164.0,846.7 L165.5,848.1 L167.0,849.5 L168.5,850.8 L170.0,852.1 L171.5,853.3 L173.0,854.5 L174.5,855.7 L176.0,856.8 L177.5,857.9 L179.0,858.9 L180.5,859.9 L182.0,860.9 L183.5,861.8 L185.0,862.7 L186.5,863.6 L188.0,864.4 L189.5,865.2 L191.0,866.0 L192.5,866.8 L194.0,867.5 L195.5,868.2 L197.0,868.9 L198.5,869.6 L200.0,870.2 L201.5,870.8 L203.0,871.4 L204.5,871.9 L206.0,872.5 L207.5,873.0 L209.0,873.5 L210.5,874.0 L212.0,874.5 L213.5,874.9 L215.0,875.4 L216.5,875.8 L218.0,876.2 L219.5,876.5 L221.0,876.9 L222.5,877.3 L224.0,877.6 L225.5,877.9 L227.0,878.2 L228.5,878.5 L230.0,878.8 L231.5,879.1 L233.0,879.3 L234.5,879.6 L236.0,879.8 L237.5,880.0 L239.0,880.2 L240.5,880.4 L242.0,880.6 L243.5,880.8 L245.0,880.9 L246.5,881.1 L248.0,881.2 L249.5,881.3 L251.0,881.5 L252.5,881.6 L254.0,881.7 L255.5,881.8 L257.0,881.8 L258.5,881.9 L260.0,882.0 L261.5,882.0 L263.0,882.1 L264.5,882.1 L266.0,882.2 L267.5,882.2 L269.0,882.2 L270.5,882.2 L272.0,882.2 L273.5,882.2 L275.0,882.2 L276.5,882.2 L278.0,882.2 L279.5,882.1 L281.0,882.1 L282.5,882.1 L284.0,882.0 L285.5,882.0 L287.0,881.9 L288.5,881.8 L290.0,881.8 L291.5,881.7 L293.0,881.6 L294.5,881.5 L296.0,881.4 L297.5,881.3 L299.0,881.2 L300.5,881.1 L302.0,881.0 L303.5,880.9 L305.0,880.7 L306.5,880.6 L308.0,880.5 L309.5,880.3 L311.0,880.2 L312.5,880.1 L314.0,879.9 L315.5,879.8 L317.0,879.6 L318.5,879.4 L320.0,879.3 L321.5,879.1 L323.0,878.9 L324.5,878.8 L326.0,878.6 L327.5,878.4 L329.0,878.2 L330.5,878.0 L332.0,877.8 L333.5,877.6 L335.0,877.4 L336.5,877.2 L338.0,877.0 L339.5,876.8 L341.0,876.6 L342.5,876.4 L344.0,876.2 L345.5,875.9 L347.0,875.7 L348.5,875.5 L350.0,875.3 L351.5,875.0 L353.0,874.8 L354.5,874.6 L356.0,874.3 L357.5,874.1 L359.0,873.8 L360.5,873.6 L362.0,873.3 L363.5,873.1 L365.0,872.8 L366.5,872.6 L368.0,872.3 L369.5,872.1 L371.0,871.8 L372.5,871.5 L374.0,871.3 L375.5,871.0 L377.0,870.7 L378.5,870.5 L380.0,870.2 L381.5,869.9 L383.0,869.6 L384.5,869.4 L386.0,869.1 L387.5,868.8 L389.0,868.5 L390.5,868.2 L392.0,867.9 L393.5,867.6 L395.0,867.4 L396.5,867.1 L398.0,866.8 L399.5,866.5 L401.0,866.2 L402.5,865.9 L404.0,865.6 L405.5,865.3 L407.0,865.0 L408.5,864.7 L410.0,864.4 L411.5,864.1 L413.0,863.8 L414.5,863.5 L416.0,863.2 L417.5,862.8 L419.0,862.5 L420.5,862.2 L422.0,861.9 L423.5,861.6 L425.0,861.3 L426.5,861.0 L428.0,860.6 L429.5,860.3 L431.0,860.0 L432.5,859.7 L434.0,859.4 L435.5,859.0 L437.0,858.7 L438.5,858.4 L440.0,858.1 L441.5,857.8 L443.0,857.4 L444.5,857.1 L446.0,856.8 L447.5,856.4 L449.0,856.1 L450.5,855.8 L452.0,855.5 L453.5,855.1 L455.0,854.8 L456.5,854.5 L458.0,854.1 L459.5,853.8 L461.0,853.5 L462.5,853.1 L464.0,852.8 L465.5,852.5 L467.0,852.1 L468.5,851.8 L470.0,851.4 L471.5,851.1 L473.0,850.8 L474.5,850.4 L476.0,850.1 L477.5,849.8 L479.0,849.4 L480.5,849.1 L482.0,848.7 L483.5,848.4 L485.0,848.1 L486.5,847.7 L488.0,847.4 L489.5,847.0 L491.0,846.7 L492.5,846.3 L494.0,846.0 L495.5,845.6 L497.0,845.3 L498.5,845.0 L500.0,844.6 L501.5,844.3 L503.0,843.9 L504.5,843.6 L506.0,843.2 L507.5,842.9 L509.0,842.5 L510.5,842.2 L512.0,841.8 L513.5,841.5 L515.0,841.2 L516.5,840.8 L518.0,840.5 L519.5,840.1 L521.0,839.8 L522.5,839.4 L524.0,839.1 L525.5,838.7 L527.0,838.4 L528.5,838.0 L530.0,837.7 L531.5,837.3 L533.0,837.0 L534.5,836.6 L536.0,836.3 L537.5,835.9 L539.0,835.6 L540.5,835.2 L542.0,834.9 L543.5,834.5 L545.0,834.2 L546.5,833.8 L548.0,833.5 L549.5,833.1 L551.0,832.8 L552.5,832.4 L554.0,832.1 L555.5,831.7 L557.0,831.4 L558.5,831.0 L560.0,830.7 L561.5,830.3 L563.0,830.0 L564.5,829.6 L566.0,829.3 L567.5,828.9 L569.0,828.6 L570.5,828.2 L572.0,827.9 L573.5,827.5 L575.0,827.2 L576.5,826.8 L578.0,826.5 L579.5,826.1 L581.0,825.8 L582.5,825.4 L584.0,825.1 L585.5,824.8 L587.0,824.4 L588.5,824.1 L590.0,823.7 L591.5,823.4 L593.0,823.0 L594.5,822.7 L596.0,822.3 L597.5,822.0 L599.0,821.6 L600.5,821.3 L602.0,820.9 L603.5,820.6 L605.0,820.2 L606.5,819.9 L608.0,819.5 L609.5,819.2 L611.0,818.9 L612.5,818.5 L614.0,818.2 L615.5,817.8 L617.0,817.5 L618.5,817.1 L620.0,816.8 L621.5,816.4 L623.0,816.1 L624.5,815.8 L626.0,815.4 L627.5,815.1 L629.0,814.7 L630.5,814.4 L632.0,814.0 L633.5,813.7 L635.0,813.4 L636.5,813.0 L638.0,812.7 L639.5,812.3 L641.0,812.0 L642.5,811.7 L644.0,811.3 L645.5,811.0 L647.0,810.6 L648.5,810.3 L650.0,810.0 L651.5,809.6 L653.0,809.3 L654.5,808.9 L656.0,808.6 L657.5,808.3 L659.0,807.9 L660.5,807.6 L662.0,807.3 L663.5,806.9 L665.0,806.6 L666.5,806.2 L668.0,805.9 L669.5,805.6 L671.0,805.2 L672.5,804.9 L674.0,804.6 L675.5,804.2 L677.0,803.9 L678.5,803.6 L680.0,803.2 L681.5,802.9 L683.0,802.6 L684.5,802.2 L686.0,801.9 L687.5,801.6 L689.0,801.2 L690.5,800.9 L692.0,800.6 L693.5,800.2 L695.0,799.9 L696.5,799.6 L698.0,799.3 L699.5,798.9 L701.0,798.6 L702.5,798.3 L704.0,797.9 L705.5,797.6 L707.0,797.3 L708.5,797.0 L710.0,796.6 L711.5,796.3 L713.0,796.0 L714.5,795.7 L714.6,795.6" fill="none" stroke="#1ee024" stroke-width="1.7" stroke-linecap="butt" stroke-linejoin="round"/>
<path d="M897.2,813.9 L898.7,817.6 L900.2,821.2 L901.7,824.5 L903.2,827.7 L904.7,830.7 L906.2,833.6 L907.7,836.4 L909.2,839.1 L910.7,841.6 L912.2,844.0 L913.7,846.4 L915.2,848.6 L916.7,850.8 L918.2,852.8 L919.7,854.8 L921.2,856.7 L922.7,858.6 L924.2,860.3 L925.7,862.0 L927.2,863.7 L928.7,865.3 L930.2,866.8 L931.7,868.3 L933.2,869.7 L934.7,871.1 L936.2,872.4 L937.7,873.7 L939.2,875.0 L940.7,876.2 L942.2,877.4 L943.7,878.5 L945.2,879.6 L946.7,880.7 L948.2,881.7 L949.7,882.7 L951.2,883.6 L952.7,884.6 L954.2,885.5 L955.7,886.4 L957.2,887.2 L958.7,888.0 L960.2,888.8 L961.7,889.6 L963.2,890.4 L964.7,891.1 L966.2,891.8 L967.7,892.5 L969.2,893.2 L970.7,893.8 L972.2,894.5 L973.7,895.1 L975.2,895.7 L976.7,896.2 L978.2,896.8 L979.7,897.3 L981.2,897.9 L982.7,898.4 L984.2,898.9 L985.7,899.4 L987.2,899.8 L988.7,900.3 L990.2,900.7 L991.7,901.1 L993.2,901.6 L994.7,902.0 L996.2,902.4 L997.7,902.7 L999.2,903.1 L1000.7,903.5 L1002.2,903.8 L1003.7,904.1 L1005.2,904.5 L1006.7,904.8 L1008.2,905.1 L1009.7,905.4 L1011.2,905.6 L1012.7,905.9 L1014.2,906.2 L1015.7,906.4 L1017.2,906.7 L1018.7,906.9 L1020.2,907.2 L1021.7,907.4 L1023.2,907.6 L1024.7,907.8 L1026.2,908.0 L1027.7,908.2 L1029.2,908.4 L1030.7,908.6 L1032.2,908.8 L1033.7,908.9 L1035.2,909.1 L1036.7,909.2 L1038.2,909.4 L1039.7,909.5 L1041.2,909.7 L1042.7,909.8 L1044.2,909.9 L1045.7,910.0 L1047.2,910.1 L1048.7,910.3 L1050.2,910.4 L1051.7,910.5 L1053.2,910.5 L1054.7,910.6 L1056.2,910.7 L1057.7,910.8 L1059.2,910.9 L1060.7,910.9 L1062.2,911.0 L1063.7,911.1 L1065.2,911.1 L1066.7,911.2 L1068.2,911.2 L1069.7,911.3 L1071.2,911.3 L1072.7,911.3 L1074.2,911.4 L1075.7,911.4 L1077.2,911.4 L1078.7,911.4 L1080.2,911.5 L1081.7,911.5 L1083.2,911.5 L1084.7,911.5 L1086.2,911.5 L1087.7,911.5 L1089.2,911.5 L1090.7,911.5 L1092.2,911.5 L1093.7,911.5 L1095.2,911.4 L1096.7,911.4 L1098.2,911.4 L1099.7,911.4 L1101.2,911.4 L1102.7,911.3 L1104.2,911.3 L1105.7,911.3 L1107.2,911.2 L1108.7,911.2 L1110.2,911.1 L1111.7,911.1 L1113.2,911.1 L1114.7,911.0 L1116.2,911.0 L1117.7,910.9 L1119.2,910.8 L1120.7,910.8 L1122.2,910.7 L1123.7,910.7 L1125.2,910.6 L1126.7,910.5 L1128.2,910.5 L1129.7,910.4 L1131.2,910.3 L1132.7,910.2 L1134.2,910.2 L1135.7,910.1 L1137.2,910.0 L1138.7,909.9 L1140.2,909.8 L1141.7,909.8 L1143.2,909.7 L1144.7,909.6 L1146.2,909.5 L1147.7,909.4 L1149.2,909.3 L1150.7,909.2 L1152.2,909.1 L1153.7,909.0 L1155.2,908.9 L1156.7,908.8 L1158.2,908.7 L1159.7,908.6 L1161.2,908.5 L1162.7,908.4 L1164.2,908.3 L1165.7,908.2 L1167.2,908.1 L1168.7,908.0 L1170.2,907.8 L1171.7,907.7 L1173.2,907.6 L1174.7,907.5 L1176.2,907.4 L1177.7,907.3 L1179.2,907.1 L1180.7,907.0 L1182.2,906.9 L1183.7,906.8 L1185.2,906.7 L1186.7,906.5 L1188.2,906.4 L1189.7,906.3 L1191.2,906.1 L1192.7,906.0 L1194.2,905.9 L1195.7,905.8 L1197.2,905.6 L1198.7,905.5 L1200.2,905.3 L1201.7,905.2 L1203.2,905.1 L1204.7,904.9 L1206.2,904.8 L1207.7,904.7 L1209.2,904.5 L1210.7,904.4 L1212.2,904.2 L1213.7,904.1 L1215.2,904.0 L1216.7,903.8 L1218.2,903.7 L1219.7,903.5 L1221.2,903.4 L1222.7,903.2 L1224.2,903.1 L1225.7,902.9 L1227.2,902.8 L1228.7,902.6 L1230.2,902.5 L1231.7,902.3 L1233.2,902.2 L1234.7,902.0 L1236.2,901.9 L1237.7,901.7 L1239.2,901.6 L1240.7,901.4 L1242.2,901.3 L1243.7,901.1 L1245.2,900.9 L1246.7,900.8 L1248.2,900.6 L1249.7,900.5 L1251.2,900.3 L1252.7,900.2 L1254.2,900.0 L1255.7,899.8 L1257.2,899.7 L1258.7,899.5 L1260.2,899.4 L1261.7,899.2 L1263.2,899.0 L1264.7,898.9 L1266.2,898.7 L1267.7,898.5 L1269.2,898.4 L1270.7,898.2 L1272.2,898.0 L1273.7,897.9 L1275.2,897.7 L1276.7,897.5 L1278.2,897.4 L1279.7,897.2 L1281.2,897.0 L1282.7,896.9 L1284.2,896.7 L1285.7,896.5 L1287.2,896.4 L1288.7,896.2 L1290.2,896.0 L1291.7,895.9 L1293.2,895.7 L1294.7,895.5 L1296.2,895.3 L1297.7,895.2 L1299.2,895.0 L1300.7,894.8 L1302.2,894.7 L1303.7,894.5 L1305.2,894.3 L1306.7,894.1 L1308.2,894.0 L1309.7,893.8 L1311.2,893.6 L1312.7,893.4 L1314.2,893.3 L1315.7,893.1 L1317.2,892.9 L1318.7,892.7 L1320.2,892.6 L1321.7,892.4 L1323.2,892.2 L1324.7,892.0 L1326.2,891.9 L1327.7,891.7 L1329.2,891.5 L1330.7,891.3 L1332.2,891.2 L1333.7,891.0 L1335.2,890.8 L1336.7,890.6 L1338.2,890.4 L1339.7,890.3 L1341.2,890.1 L1342.7,889.9 L1344.2,889.7 L1345.7,889.6 L1347.2,889.4 L1348.7,889.2 L1350.2,889.0 L1351.7,888.8 L1353.2,888.7 L1354.7,888.5 L1356.2,888.3 L1357.7,888.1 L1359.2,887.9 L1360.7,887.8 L1362.2,887.6 L1363.7,887.4 L1365.2,887.2 L1366.7,887.0 L1368.2,886.9 L1369.7,886.7 L1371.2,886.5 L1372.7,886.3 L1374.2,886.1 L1375.7,885.9 L1377.2,885.8 L1378.7,885.6 L1380.2,885.4 L1381.7,885.2 L1383.2,885.0 L1384.7,884.9 L1386.2,884.7 L1387.7,884.5 L1389.2,884.3 L1390.7,884.1 L1392.2,883.9 L1393.7,883.8 L1395.2,883.6 L1396.7,883.4 L1398.2,883.2 L1399.7,883.0 L1401.2,882.9 L1402.7,882.7 L1404.2,882.5 L1405.7,882.3 L1407.2,882.1 L1408.7,881.9 L1410.2,881.8 L1411.7,881.6 L1413.2,881.4 L1414.7,881.2 L1416.2,881.0 L1417.7,880.8 L1419.2,880.7 L1420.7,880.5 L1422.2,880.3 L1423.7,880.1 L1425.2,879.9 L1426.7,879.7 L1428.2,879.6 L1429.7,879.4 L1431.2,879.2 L1432.7,879.0 L1434.2,878.8 L1435.7,878.6 L1437.2,878.5 L1438.7,878.3 L1440.2,878.1 L1441.7,877.9 L1443.2,877.7 L1444.7,877.5 L1446.2,877.4 L1447.7,877.2 L1449.2,877.0 L1450.7,876.8 L1452.2,876.6 L1453.7,876.4 L1455.2,876.3 L1456.7,876.1 L1458.2,875.9 L1459.7,875.7 L1461.2,875.5 L1462.7,875.3 L1464.2,875.2 L1465.7,875.0 L1467.2,874.8 L1468.7,874.6 L1470.2,874.4 L1471.7,874.2 L1473.2,874.1 L1474.7,873.9 L1476.2,873.7 L1477.7,873.5 L1479.2,873.3 L1480.7,873.1 L1482.2,873.0 L1483.7,872.8 L1485.2,872.6 L1486.7,872.4 L1488.2,872.2 L1489.7,872.0 L1490.2,872.0" fill="none" stroke="#064d06" stroke-width="3.6" stroke-linecap="butt" stroke-linejoin="round"/>
<path d="M897.2,813.9 L898.7,817.6 L900.2,821.2 L901.7,824.5 L903.2,827.7 L904.7,830.7 L906.2,833.6 L907.7,836.4 L909.2,839.1 L910.7,841.6 L912.2,844.0 L913.7,846.4 L915.2,848.6 L916.7,850.8 L918.2,852.8 L919.7,854.8 L921.2,856.7 L922.7,858.6 L924.2,860.3 L925.7,862.0 L927.2,863.7 L928.7,865.3 L930.2,866.8 L931.7,868.3 L933.2,869.7 L934.7,871.1 L936.2,872.4 L937.7,873.7 L939.2,875.0 L940.7,876.2 L942.2,877.4 L943.7,878.5 L945.2,879.6 L946.7,880.7 L948.2,881.7 L949.7,882.7 L951.2,883.6 L952.7,884.6 L954.2,885.5 L955.7,886.4 L957.2,887.2 L958.7,888.0 L960.2,888.8 L961.7,889.6 L963.2,890.4 L964.7,891.1 L966.2,891.8 L967.7,892.5 L969.2,893.2 L970.7,893.8 L972.2,894.5 L973.7,895.1 L975.2,895.7 L976.7,896.2 L978.2,896.8 L979.7,897.3 L981.2,897.9 L982.7,898.4 L984.2,898.9 L985.7,899.4 L987.2,899.8 L988.7,900.3 L990.2,900.7 L991.7,901.1 L993.2,901.6 L994.7,902.0 L996.2,902.4 L997.7,902.7 L999.2,903.1 L1000.7,903.5 L1002.2,903.8 L1003.7,904.1 L1005.2,904.5 L1006.7,904.8 L1008.2,905.1 L1009.7,905.4 L1011.2,905.6 L1012.7,905.9 L1014.2,906.2 L1015.7,906.4 L1017.2,906.7 L1018.7,906.9 L1020.2,907.2 L1021.7,907.4 L1023.2,907.6 L1024.7,907.8 L1026.2,908.0 L1027.7,908.2 L1029.2,908.4 L1030.7,908.6 L1032.2,908.8 L1033.7,908.9 L1035.2,909.1 L1036.7,909.2 L1038.2,909.4 L1039.7,909.5 L1041.2,909.7 L1042.7,909.8 L1044.2,909.9 L1045.7,910.0 L1047.2,910.1 L1048.7,910.3 L1050.2,910.4 L1051.7,910.5 L1053.2,910.5 L1054.7,910.6 L1056.2,910.7 L1057.7,910.8 L1059.2,910.9 L1060.7,910.9 L1062.2,911.0 L1063.7,911.1 L1065.2,911.1 L1066.7,911.2 L1068.2,911.2 L1069.7,911.3 L1071.2,911.3 L1072.7,911.3 L1074.2,911.4 L1075.7,911.4 L1077.2,911.4 L1078.7,911.4 L1080.2,911.5 L1081.7,911.5 L1083.2,911.5 L1084.7,911.5 L1086.2,911.5 L1087.7,911.5 L1089.2,911.5 L1090.7,911.5 L1092.2,911.5 L1093.7,911.5 L1095.2,911.4 L1096.7,911.4 L1098.2,911.4 L1099.7,911.4 L1101.2,911.4 L1102.7,911.3 L1104.2,911.3 L1105.7,911.3 L1107.2,911.2 L1108.7,911.2 L1110.2,911.1 L1111.7,911.1 L1113.2,911.1 L1114.7,911.0 L1116.2,911.0 L1117.7,910.9 L1119.2,910.8 L1120.7,910.8 L1122.2,910.7 L1123.7,910.7 L1125.2,910.6 L1126.7,910.5 L1128.2,910.5 L1129.7,910.4 L1131.2,910.3 L1132.7,910.2 L1134.2,910.2 L1135.7,910.1 L1137.2,910.0 L1138.7,909.9 L1140.2,909.8 L1141.7,909.8 L1143.2,909.7 L1144.7,909.6 L1146.2,909.5 L1147.7,909.4 L1149.2,909.3 L1150.7,909.2 L1152.2,909.1 L1153.7,909.0 L1155.2,908.9 L1156.7,908.8 L1158.2,908.7 L1159.7,908.6 L1161.2,908.5 L1162.7,908.4 L1164.2,908.3 L1165.7,908.2 L1167.2,908.1 L1168.7,908.0 L1170.2,907.8 L1171.7,907.7 L1173.2,907.6 L1174.7,907.5 L1176.2,907.4 L1177.7,907.3 L1179.2,907.1 L1180.7,907.0 L1182.2,906.9 L1183.7,906.8 L1185.2,906.7 L1186.7,906.5 L1188.2,906.4 L1189.7,906.3 L1191.2,906.1 L1192.7,906.0 L1194.2,905.9 L1195.7,905.8 L1197.2,905.6 L1198.7,905.5 L1200.2,905.3 L1201.7,905.2 L1203.2,905.1 L1204.7,904.9 L1206.2,904.8 L1207.7,904.7 L1209.2,904.5 L1210.7,904.4 L1212.2,904.2 L1213.7,904.1 L1215.2,904.0 L1216.7,903.8 L1218.2,903.7 L1219.7,903.5 L1221.2,903.4 L1222.7,903.2 L1224.2,903.1 L1225.7,902.9 L1227.2,902.8 L1228.7,902.6 L1230.2,902.5 L1231.7,902.3 L1233.2,902.2 L1234.7,902.0 L1236.2,901.9 L1237.7,901.7 L1239.2,901.6 L1240.7,901.4 L1242.2,901.3 L1243.7,901.1 L1245.2,900.9 L1246.7,900.8 L1248.2,900.6 L1249.7,900.5 L1251.2,900.3 L1252.7,900.2 L1254.2,900.0 L1255.7,899.8 L1257.2,899.7 L1258.7,899.5 L1260.2,899.4 L1261.7,899.2 L1263.2,899.0 L1264.7,898.9 L1266.2,898.7 L1267.7,898.5 L1269.2,898.4 L1270.7,898.2 L1272.2,898.0 L1273.7,897.9 L1275.2,897.7 L1276.7,897.5 L1278.2,897.4 L1279.7,897.2 L1281.2,897.0 L1282.7,896.9 L1284.2,896.7 L1285.7,896.5 L1287.2,896.4 L1288.7,896.2 L1290.2,896.0 L1291.7,895.9 L1293.2,895.7 L1294.7,895.5 L1296.2,895.3 L1297.7,895.2 L1299.2,895.0 L1300.7,894.8 L1302.2,894.7 L1303.7,894.5 L1305.2,894.3 L1306.7,894.1 L1308.2,894.0 L1309.7,893.8 L1311.2,893.6 L1312.7,893.4 L1314.2,893.3 L1315.7,893.1 L1317.2,892.9 L1318.7,892.7 L1320.2,892.6 L1321.7,892.4 L1323.2,892.2 L1324.7,892.0 L1326.2,891.9 L1327.7,891.7 L1329.2,891.5 L1330.7,891.3 L1332.2,891.2 L1333.7,891.0 L1335.2,890.8 L1336.7,890.6 L1338.2,890.4 L1339.7,890.3 L1341.2,890.1 L1342.7,889.9 L1344.2,889.7 L1345.7,889.6 L1347.2,889.4 L1348.7,889.2 L1350.2,889.0 L1351.7,888.8 L1353.2,888.7 L1354.7,888.5 L1356.2,888.3 L1357.7,888.1 L1359.2,887.9 L1360.7,887.8 L1362.2,887.6 L1363.7,887.4 L1365.2,887.2 L1366.7,887.0 L1368.2,886.9 L1369.7,886.7 L1371.2,886.5 L1372.7,886.3 L1374.2,886.1 L1375.7,885.9 L1377.2,885.8 L1378.7,885.6 L1380.2,885.4 L1381.7,885.2 L1383.2,885.0 L1384.7,884.9 L1386.2,884.7 L1387.7,884.5 L1389.2,884.3 L1390.7,884.1 L1392.2,883.9 L1393.7,883.8 L1395.2,883.6 L1396.7,883.4 L1398.2,883.2 L1399.7,883.0 L1401.2,882.9 L1402.7,882.7 L1404.2,882.5 L1405.7,882.3 L1407.2,882.1 L1408.7,881.9 L1410.2,881.8 L1411.7,881.6 L1413.2,881.4 L1414.7,881.2 L1416.2,881.0 L1417.7,880.8 L1419.2,880.7 L1420.7,880.5 L1422.2,880.3 L1423.7,880.1 L1425.2,879.9 L1426.7,879.7 L1428.2,879.6 L1429.7,879.4 L1431.2,879.2 L1432.7,879.0 L1434.2,878.8 L1435.7,878.6 L1437.2,878.5 L1438.7,878.3 L1440.2,878.1 L1441.7,877.9 L1443.2,877.7 L1444.7,877.5 L1446.2,877.4 L1447.7,877.2 L1449.2,877.0 L1450.7,876.8 L1452.2,876.6 L1453.7,876.4 L1455.2,876.3 L1456.7,876.1 L1458.2,875.9 L1459.7,875.7 L1461.2,875.5 L1462.7,875.3 L1464.2,875.2 L1465.7,875.0 L1467.2,874.8 L1468.7,874.6 L1470.2,874.4 L1471.7,874.2 L1473.2,874.1 L1474.7,873.9 L1476.2,873.7 L1477.7,873.5 L1479.2,873.3 L1480.7,873.1 L1482.2,873.0 L1483.7,872.8 L1485.2,872.6 L1486.7,872.4 L1488.2,872.2 L1489.7,872.0 L1490.2,872.0" fill="none" stroke="#1ee024" stroke-width="1.7" stroke-linecap="butt" stroke-linejoin="round"/>
<path d="M161.69,509.42 h7.9 l-3.95,6.9 z M159.83,514.43 h7.9 l-3.95,6.9 z M159.11,516.58 h7.9 l-3.95,6.9 z M161.69,524.75 h7.9 l-3.95,6.9 z M148.36,535.21 h7.9 l-3.95,6.9 z M149.80,538.80 h7.9 l-3.95,6.9 z M156.25,540.95 h7.9 l-3.95,6.9 z M159.11,543.81 h7.9 l-3.95,6.9 z M157.68,545.96 h7.9 l-3.95,6.9 z M149.80,546.68 h7.9 l-3.95,6.9 z M152.66,554.56 h7.9 l-3.95,6.9 z M156.25,553.85 h7.9 l-3.95,6.9 z M147.65,555.28 h7.9 l-3.95,6.9 z M153.38,558.86 h7.9 l-3.95,6.9 z M150.51,561.73 h7.9 l-3.95,6.9 z M148.36,565.31 h7.9 l-3.95,6.9 z M140.48,567.46 h7.9 l-3.95,6.9 z M150.51,583.23 h7.9 l-3.95,6.9 z M149.08,584.66 h7.9 l-3.95,6.9 z M160.55,583.23 h7.9 l-3.95,6.9 z M148.36,609.03 h7.9 l-3.95,6.9 z M219.31,538.08 h7.9 l-3.95,6.9 z M220.75,553.13 h7.9 l-3.95,6.9 z M211.43,556.00 h7.9 l-3.95,6.9 z M234.36,531.63 h7.9 l-3.95,6.9 z M233.64,534.50 h7.9 l-3.95,6.9 z M232.21,541.66 h7.9 l-3.95,6.9 z M237.23,544.53 h7.9 l-3.95,6.9 z M239.38,536.65 h7.9 l-3.95,6.9 z M249.41,542.38 h7.9 l-3.95,6.9 z M250.13,544.53 h7.9 l-3.95,6.9 z M265.18,530.92 h7.9 l-3.95,6.9 z M262.31,540.95 h7.9 l-3.95,6.9 z M265.89,552.41 h7.9 l-3.95,6.9 z M249.41,563.16 h7.9 l-3.95,6.9 z M230.78,568.18 h7.9 l-3.95,6.9 z M225.05,567.46 h7.9 l-3.95,6.9 z M220.75,571.76 h7.9 l-3.95,6.9 z M218.60,574.63 h7.9 l-3.95,6.9 z M219.31,577.50 h7.9 l-3.95,6.9 z M243.68,582.51 h7.9 l-3.95,6.9 z M260.88,576.78 h7.9 l-3.95,6.9 z M269.48,583.23 h7.9 l-3.95,6.9 z M265.89,596.13 h7.9 l-3.95,6.9 z M290.98,538.08 h7.9 l-3.95,6.9 z M301.01,543.81 h7.9 l-3.95,6.9 z M283.81,564.60 h7.9 l-3.95,6.9 z M295.28,561.01 h7.9 l-3.95,6.9 z M299.58,563.16 h7.9 l-3.95,6.9 z M305.31,561.01 h7.9 l-3.95,6.9 z M292.41,568.90 h7.9 l-3.95,6.9 z M293.84,573.20 h7.9 l-3.95,6.9 z M294.56,580.36 h7.9 l-3.95,6.9 z M302.44,577.50 h7.9 l-3.95,6.9 z M313.91,588.96 h7.9 l-3.95,6.9 z M311.04,553.13 h7.9 l-3.95,6.9 z M498.11,498.67 h7.9 l-3.95,6.9 z M463.71,518.02 h7.9 l-3.95,6.9 z M371.98,527.33 h7.9 l-3.95,6.9 z M377.71,528.77 h7.9 l-3.95,6.9 z M355.50,536.65 h7.9 l-3.95,6.9 z M354.78,543.10 h7.9 l-3.95,6.9 z M344.75,544.53 h7.9 l-3.95,6.9 z M343.32,543.81 h7.9 l-3.95,6.9 z M330.42,548.11 h7.9 l-3.95,6.9 z M321.82,550.98 h7.9 l-3.95,6.9 z M374.85,543.10 h7.9 l-3.95,6.9 z M388.46,553.85 h7.9 l-3.95,6.9 z M388.46,557.43 h7.9 l-3.95,6.9 z M328.98,561.73 h7.9 l-3.95,6.9 z M325.40,569.61 h7.9 l-3.95,6.9 z M354.78,558.86 h7.9 l-3.95,6.9 z M406.38,560.30 h7.9 l-3.95,6.9 z M396.35,574.63 h7.9 l-3.95,6.9 z M397.06,581.80 h7.9 l-3.95,6.9 z M407.81,601.15 h7.9 l-3.95,6.9 z M429.31,559.58 h7.9 l-3.95,6.9 z M440.06,558.86 h7.9 l-3.95,6.9 z M470.88,549.55 h7.9 l-3.95,6.9 z M466.58,554.56 h7.9 l-3.95,6.9 z M456.54,574.63 h7.9 l-3.95,6.9 z M456.54,578.93 h7.9 l-3.95,6.9 z M470.88,571.76 h7.9 l-3.95,6.9 z M480.19,573.20 h7.9 l-3.95,6.9 z M483.78,574.63 h7.9 l-3.95,6.9 z M485.21,563.16 h7.9 l-3.95,6.9 z M493.81,563.88 h7.9 l-3.95,6.9 z M505.28,568.18 h7.9 l-3.95,6.9 z M470.16,599.71 h7.9 l-3.95,6.9 z M490.94,540.95 h7.9 l-3.95,6.9 z M503.13,535.93 h7.9 l-3.95,6.9 z M511.01,526.62 h7.9 l-3.95,6.9 z M513.16,535.21 h7.9 l-3.95,6.9 z M512.44,551.70 h7.9 l-3.95,6.9 z M515.31,551.70 h7.9 l-3.95,6.9 z M521.04,542.38 h7.9 l-3.95,6.9 z M521.04,568.90 h7.9 l-3.95,6.9 z M572.66,521.60 h7.9 l-3.95,6.9 z M543.28,538.08 h7.9 l-3.95,6.9 z M550.45,538.80 h7.9 l-3.95,6.9 z M551.17,546.68 h7.9 l-3.95,6.9 z M566.93,566.75 h7.9 l-3.95,6.9 z M658.66,548.83 h7.9 l-3.95,6.9 z M148.36,1140.92 h7.9 l-3.95,6.9 z M161.26,1160.98 h7.9 l-3.95,6.9 z M140.48,1171.01 h7.9 l-3.95,6.9 z M148.36,1171.01 h7.9 l-3.95,6.9 z M156.25,1173.16 h7.9 l-3.95,6.9 z M157.68,1178.18 h7.9 l-3.95,6.9 z M159.11,1181.76 h7.9 l-3.95,6.9 z M160.55,1184.63 h7.9 l-3.95,6.9 z M159.83,1186.06 h7.9 l-3.95,6.9 z M149.08,1183.20 h7.9 l-3.95,6.9 z M150.51,1193.95 h7.9 l-3.95,6.9 z M219.31,1137.33 h7.9 l-3.95,6.9 z M249.12,1130.17 h7.9 l-3.95,6.9 z M232.21,1145.21 h7.9 l-3.95,6.9 z M240.09,1148.80 h7.9 l-3.95,6.9 z M218.60,1159.55 h7.9 l-3.95,6.9 z M236.22,1157.40 h7.9 l-3.95,6.9 z M231.50,1163.13 h7.9 l-3.95,6.9 z M220.75,1171.73 h7.9 l-3.95,6.9 z M220.75,1176.03 h7.9 l-3.95,6.9 z M233.64,1173.16 h7.9 l-3.95,6.9 z M211.43,1186.06 h7.9 l-3.95,6.9 z M225.05,1187.50 h7.9 l-3.95,6.9 z M235.08,1187.50 h7.9 l-3.95,6.9 z M245.83,1169.58 h7.9 l-3.95,6.9 z M250.13,1163.13 h7.9 l-3.95,6.9 z M265.89,1152.38 h7.9 l-3.95,6.9 z M267.33,1155.25 h7.9 l-3.95,6.9 z M269.48,1163.13 h7.9 l-3.95,6.9 z M262.31,1181.76 h7.9 l-3.95,6.9 z M266.61,1180.33 h7.9 l-3.95,6.9 z M290.98,1146.65 h7.9 l-3.95,6.9 z M292.41,1157.40 h7.9 l-3.95,6.9 z M299.58,1161.70 h7.9 l-3.95,6.9 z M283.81,1163.13 h7.9 l-3.95,6.9 z M294.56,1171.73 h7.9 l-3.95,6.9 z M290.98,1183.20 h7.9 l-3.95,6.9 z M295.28,1191.80 h7.9 l-3.95,6.9 z M305.31,1187.50 h7.9 l-3.95,6.9 z M306.74,1171.73 h7.9 l-3.95,6.9 z M313.91,1149.51 h7.9 l-3.95,6.9 z M313.91,1174.60 h7.9 l-3.95,6.9 z M301.01,1117.27 h7.9 l-3.95,6.9 z M331.13,1143.06 h7.9 l-3.95,6.9 z M345.47,1148.08 h7.9 l-3.95,6.9 z M322.25,1158.83 h7.9 l-3.95,6.9 z M328.98,1170.30 h7.9 l-3.95,6.9 z M344.03,1174.60 h7.9 l-3.95,6.9 z M354.78,1169.58 h7.9 l-3.95,6.9 z M354.06,1165.28 h7.9 l-3.95,6.9 z M353.35,1178.18 h7.9 l-3.95,6.9 z M326.12,1186.78 h7.9 l-3.95,6.9 z M374.85,1162.41 h7.9 l-3.95,6.9 z M377.71,1162.41 h7.9 l-3.95,6.9 z M371.98,1162.41 h7.9 l-3.95,6.9 z M396.35,1145.21 h7.9 l-3.95,6.9 z M407.81,1151.66 h7.9 l-3.95,6.9 z M396.35,1177.46 h7.9 l-3.95,6.9 z M387.75,1192.51 h7.9 l-3.95,6.9 z M406.38,1198.25 h7.9 l-3.95,6.9 z M429.31,1198.25 h7.9 l-3.95,6.9 z M441.50,1151.66 h7.9 l-3.95,6.9 z M463.71,1153.81 h7.9 l-3.95,6.9 z M456.54,1178.90 h7.9 l-3.95,6.9 z M456.54,1193.95 h7.9 l-3.95,6.9 z M467.29,1183.20 h7.9 l-3.95,6.9 z M472.31,1171.73 h7.9 l-3.95,6.9 z M471.59,1177.46 h7.9 l-3.95,6.9 z M473.74,1165.28 h7.9 l-3.95,6.9 z M479.48,1158.11 h7.9 l-3.95,6.9 z M485.21,1156.68 h7.9 l-3.95,6.9 z M483.78,1143.06 h7.9 l-3.95,6.9 z M494.53,1147.36 h7.9 l-3.95,6.9 z M498.11,1164.56 h7.9 l-3.95,6.9 z M505.28,1153.10 h7.9 l-3.95,6.9 z M511.01,1155.25 h7.9 l-3.95,6.9 z M513.16,1148.08 h7.9 l-3.95,6.9 z M516.03,1150.23 h7.9 l-3.95,6.9 z M521.04,1139.48 h7.9 l-3.95,6.9 z M513.88,1166.00 h7.9 l-3.95,6.9 z M511.73,1174.60 h7.9 l-3.95,6.9 z M520.33,1183.20 h7.9 l-3.95,6.9 z M490.94,1189.65 h7.9 l-3.95,6.9 z M503.84,1197.53 h7.9 l-3.95,6.9 z M543.71,1130.88 h7.9 l-3.95,6.9 z M572.95,1129.45 h7.9 l-3.95,6.9 z M550.88,1150.95 h7.9 l-3.95,6.9 z M567.22,1158.11 h7.9 l-3.95,6.9 z M550.45,1182.91 h7.9 l-3.95,6.9 z M658.66,1155.25 h7.9 l-3.95,6.9 z M926.21,533.06 h7.9 l-3.95,6.9 z M935.53,529.48 h7.9 l-3.95,6.9 z M937.68,530.92 h7.9 l-3.95,6.9 z M936.96,535.21 h7.9 l-3.95,6.9 z M932.66,544.53 h7.9 l-3.95,6.9 z M933.38,547.40 h7.9 l-3.95,6.9 z M930.51,548.83 h7.9 l-3.95,6.9 z M924.78,550.26 h7.9 l-3.95,6.9 z M917.62,559.58 h7.9 l-3.95,6.9 z M934.81,558.86 h7.9 l-3.95,6.9 z M923.35,565.31 h7.9 l-3.95,6.9 z M924.06,568.18 h7.9 l-3.95,6.9 z M925.50,573.20 h7.9 l-3.95,6.9 z M935.53,566.75 h7.9 l-3.95,6.9 z M924.06,590.40 h7.9 l-3.95,6.9 z M987.13,550.98 h7.9 l-3.95,6.9 z M996.45,552.41 h7.9 l-3.95,6.9 z M994.30,540.23 h7.9 l-3.95,6.9 z M993.58,565.31 h7.9 l-3.95,6.9 z M997.88,564.60 h7.9 l-3.95,6.9 z M1000.75,561.01 h7.9 l-3.95,6.9 z M1006.48,570.33 h7.9 l-3.95,6.9 z M1010.06,532.35 h7.9 l-3.95,6.9 z M1007.91,542.38 h7.9 l-3.95,6.9 z M1012.93,548.83 h7.9 l-3.95,6.9 z M1015.79,549.55 h7.9 l-3.95,6.9 z M1025.11,544.53 h7.9 l-3.95,6.9 z M1024.39,551.70 h7.9 l-3.95,6.9 z M1025.11,560.30 h7.9 l-3.95,6.9 z M1018.66,568.18 h7.9 l-3.95,6.9 z M1038.01,536.65 h7.9 l-3.95,6.9 z M1042.31,547.40 h7.9 l-3.95,6.9 z M1036.58,565.31 h7.9 l-3.95,6.9 z M1045.18,571.05 h7.9 l-3.95,6.9 z M1041.59,579.65 h7.9 l-3.95,6.9 z M1066.68,538.08 h7.9 l-3.95,6.9 z M1070.98,552.41 h7.9 l-3.95,6.9 z M1075.99,551.70 h7.9 l-3.95,6.9 z M1066.68,564.60 h7.9 l-3.95,6.9 z M1068.83,567.46 h7.9 l-3.95,6.9 z M1075.28,567.46 h7.9 l-3.95,6.9 z M1078.14,572.48 h7.9 l-3.95,6.9 z M1069.54,578.93 h7.9 l-3.95,6.9 z M1089.61,577.50 h7.9 l-3.95,6.9 z M1059.51,558.15 h7.9 l-3.95,6.9 z M1089.61,558.86 h7.9 l-3.95,6.9 z M1094.63,543.10 h7.9 l-3.95,6.9 z M1082.44,554.56 h7.9 l-3.95,6.9 z M1101.82,553.13 h7.9 l-3.95,6.9 z M1104.68,560.30 h7.9 l-3.95,6.9 z M1106.12,562.45 h7.9 l-3.95,6.9 z M1119.02,543.81 h7.9 l-3.95,6.9 z M1120.45,548.11 h7.9 l-3.95,6.9 z M1130.48,545.25 h7.9 l-3.95,6.9 z M1131.91,547.40 h7.9 l-3.95,6.9 z M1146.25,536.65 h7.9 l-3.95,6.9 z M1151.98,537.36 h7.9 l-3.95,6.9 z M1163.45,550.98 h7.9 l-3.95,6.9 z M1171.33,561.73 h7.9 l-3.95,6.9 z M1172.05,573.91 h7.9 l-3.95,6.9 z M1182.80,581.08 h7.9 l-3.95,6.9 z M1181.36,548.83 h7.9 l-3.95,6.9 z M1205.01,550.98 h7.9 l-3.95,6.9 z M1216.48,566.75 h7.9 l-3.95,6.9 z M1232.24,563.88 h7.9 l-3.95,6.9 z M1232.24,558.86 h7.9 l-3.95,6.9 z M1239.41,544.53 h7.9 l-3.95,6.9 z M1245.14,543.10 h7.9 l-3.95,6.9 z M1247.29,546.68 h7.9 l-3.95,6.9 z M1249.44,550.26 h7.9 l-3.95,6.9 z M1248.01,564.60 h7.9 l-3.95,6.9 z M1255.18,563.16 h7.9 l-3.95,6.9 z M1259.48,577.50 h7.9 l-3.95,6.9 z M1245.14,582.51 h7.9 l-3.95,6.9 z M1260.19,555.28 h7.9 l-3.95,6.9 z M1265.93,537.36 h7.9 l-3.95,6.9 z M1273.81,525.90 h7.9 l-3.95,6.9 z M1278.83,538.08 h7.9 l-3.95,6.9 z M1269.51,568.18 h7.9 l-3.95,6.9 z M1280.26,567.46 h7.9 l-3.95,6.9 z M1285.99,541.66 h7.9 l-3.95,6.9 z M1286.71,548.11 h7.9 l-3.95,6.9 z M1291.01,546.68 h7.9 l-3.95,6.9 z M1296.03,547.40 h7.9 l-3.95,6.9 z M1296.74,578.93 h7.9 l-3.95,6.9 z M1288.86,556.00 h7.9 l-3.95,6.9 z M1326.15,538.80 h7.9 l-3.95,6.9 z M1318.27,548.83 h7.9 l-3.95,6.9 z M1326.87,548.83 h7.9 l-3.95,6.9 z M1348.36,546.68 h7.9 l-3.95,6.9 z M1342.63,559.58 h7.9 l-3.95,6.9 z M1434.36,548.83 h7.9 l-3.95,6.9 z M936.96,1145.93 h7.9 l-3.95,6.9 z M924.06,1152.38 h7.9 l-3.95,6.9 z M924.78,1160.26 h7.9 l-3.95,6.9 z M931.23,1160.26 h7.9 l-3.95,6.9 z M934.81,1158.83 h7.9 l-3.95,6.9 z M919.05,1171.73 h7.9 l-3.95,6.9 z M926.93,1172.45 h7.9 l-3.95,6.9 z M932.66,1171.73 h7.9 l-3.95,6.9 z M933.38,1174.60 h7.9 l-3.95,6.9 z M926.21,1183.20 h7.9 l-3.95,6.9 z M936.25,1182.48 h7.9 l-3.95,6.9 z M994.30,1160.26 h7.9 l-3.95,6.9 z M995.01,1161.70 h7.9 l-3.95,6.9 z M1002.90,1162.41 h7.9 l-3.95,6.9 z M1007.91,1155.25 h7.9 l-3.95,6.9 z M1015.79,1146.65 h7.9 l-3.95,6.9 z M1012.21,1163.13 h7.9 l-3.95,6.9 z M994.30,1172.45 h7.9 l-3.95,6.9 z M1007.91,1171.73 h7.9 l-3.95,6.9 z M1010.06,1178.90 h7.9 l-3.95,6.9 z M987.13,1181.05 h7.9 l-3.95,6.9 z M997.88,1181.76 h7.9 l-3.95,6.9 z M1001.46,1181.05 h7.9 l-3.95,6.9 z M1025.11,1164.56 h7.9 l-3.95,6.9 z M1024.39,1169.58 h7.9 l-3.95,6.9 z M1042.31,1154.53 h7.9 l-3.95,6.9 z M1045.18,1168.86 h7.9 l-3.95,6.9 z M1042.31,1177.46 h7.9 l-3.95,6.9 z M1069.54,1152.38 h7.9 l-3.95,6.9 z M1076.71,1143.78 h7.9 l-3.95,6.9 z M1068.11,1164.56 h7.9 l-3.95,6.9 z M1065.96,1176.03 h7.9 l-3.95,6.9 z M1066.68,1180.33 h7.9 l-3.95,6.9 z M1074.56,1174.60 h7.9 l-3.95,6.9 z M1081.01,1160.26 h7.9 l-3.95,6.9 z M1082.44,1181.76 h7.9 l-3.95,6.9 z M1089.61,1160.26 h7.9 l-3.95,6.9 z M1080.29,1172.45 h7.9 l-3.95,6.9 z M1105.83,1150.95 h7.9 l-3.95,6.9 z M1104.68,1159.55 h7.9 l-3.95,6.9 z M1121.17,1156.68 h7.9 l-3.95,6.9 z M1130.77,1150.95 h7.9 l-3.95,6.9 z M1129.77,1163.85 h7.9 l-3.95,6.9 z M1119.02,1169.58 h7.9 l-3.95,6.9 z M1130.48,1171.73 h7.9 l-3.95,6.9 z M1147.39,1147.36 h7.9 l-3.95,6.9 z M1151.26,1158.83 h7.9 l-3.95,6.9 z M1153.41,1163.85 h7.9 l-3.95,6.9 z M1101.53,1179.61 h7.9 l-3.95,6.9 z M1163.45,1176.03 h7.9 l-3.95,6.9 z M1172.05,1177.46 h7.9 l-3.95,6.9 z M1181.36,1172.45 h7.9 l-3.95,6.9 z M1205.01,1175.31 h7.9 l-3.95,6.9 z M1216.48,1169.58 h7.9 l-3.95,6.9 z M1232.24,1164.56 h7.9 l-3.95,6.9 z M1239.41,1151.66 h7.9 l-3.95,6.9 z M1243.71,1150.95 h7.9 l-3.95,6.9 z M1255.89,1152.38 h7.9 l-3.95,6.9 z M1259.48,1161.70 h7.9 l-3.95,6.9 z M1270.94,1148.80 h7.9 l-3.95,6.9 z M1273.81,1147.36 h7.9 l-3.95,6.9 z M1245.14,1175.31 h7.9 l-3.95,6.9 z M1249.44,1174.60 h7.9 l-3.95,6.9 z M1260.91,1170.30 h7.9 l-3.95,6.9 z M1265.93,1171.73 h7.9 l-3.95,6.9 z M1278.83,1173.16 h7.9 l-3.95,6.9 z M1246.58,1185.35 h7.9 l-3.95,6.9 z M1232.24,1193.95 h7.9 l-3.95,6.9 z M1286.71,1156.68 h7.9 l-3.95,6.9 z M1290.29,1174.60 h7.9 l-3.95,6.9 z M1293.88,1171.73 h7.9 l-3.95,6.9 z M1296.74,1163.85 h7.9 l-3.95,6.9 z M1318.71,1159.97 h7.9 l-3.95,6.9 z M1325.90,1156.91 h7.9 l-3.95,6.9 z M1328.20,1155.38 h7.9 l-3.95,6.9 z M1348.10,1163.03 h7.9 l-3.95,6.9 z M1342.74,1174.51 h7.9 l-3.95,6.9 z M1434.60,1146.96 h7.9 l-3.95,6.9 z" fill="none" stroke="#f5694c" stroke-width="1.45" stroke-linejoin="miter"/>
<path d="M238.4,515.5 h7.8 M242.3,511.6 v7.8 M279.3,512.9 h7.8 M283.2,509.0 v7.8 M283.9,533.7 h7.8 M287.8,529.8 v7.8 M302.5,536.2 h7.8 M306.4,532.3 v7.8 M197.9,531.3 h7.8 M201.8,527.4 v7.8 M203.6,531.3 h7.8 M207.5,527.4 v7.8 M212.2,534.4 h7.8 M216.1,530.5 v7.8 M182.1,538.7 h7.8 M186.0,534.8 v7.8 M194.7,540.5 h7.8 M198.6,536.6 v7.8 M154.1,536.6 h7.8 M158.0,532.7 v7.8 M152.7,539.4 h7.8 M156.6,535.5 v7.8 M149.8,542.3 h7.8 M153.7,538.4 v7.8 M147.0,545.9 h7.8 M150.9,542.0 v7.8 M162.7,543.7 h7.8 M166.6,539.8 v7.8 M169.9,548.8 h7.8 M173.8,544.9 v7.8 M246.6,537.6 h7.8 M250.5,533.7 v7.8 M266.7,539.4 h7.8 M270.6,535.5 v7.8 M280.7,553.8 h7.8 M284.6,549.9 v7.8 M306.8,552.3 h7.8 M310.7,548.4 v7.8 M313.2,548.8 h7.8 M317.1,544.9 v7.8 M147.7,561.7 h7.8 M151.6,557.8 v7.8 M168.5,566.7 h7.8 M172.4,562.8 v7.8 M170.6,566.7 h7.8 M174.5,562.8 v7.8 M176.7,573.8 h7.8 M180.6,569.9 v7.8 M160.6,579.6 h7.8 M164.5,575.7 v7.8 M142.7,584.6 h7.8 M146.6,580.7 v7.8 M135.5,587.7 h7.8 M139.4,583.8 v7.8 M166.0,592.0 h7.8 M169.9,588.1 v7.8 M260.9,572.4 h7.8 M264.8,568.5 v7.8 M257.3,603.2 h7.8 M261.2,599.3 v7.8 M314.7,573.1 h7.8 M318.6,569.2 v7.8 M314.7,581.0 h7.8 M318.6,577.1 v7.8 M438.7,529.4 h7.8 M442.6,525.5 v7.8 M390.7,547.0 h7.8 M394.6,543.1 v7.8 M356.3,555.2 h7.8 M360.2,551.3 v7.8 M366.3,555.9 h7.8 M370.2,552.0 v7.8 M376.3,555.9 h7.8 M380.2,552.0 v7.8 M336.9,561.7 h7.8 M340.8,557.8 v7.8 M348.4,566.0 h7.8 M352.3,562.1 v7.8 M366.3,563.8 h7.8 M370.2,559.9 v7.8 M410.7,562.4 h7.8 M414.6,558.5 v7.8 M420.8,562.4 h7.8 M424.7,558.5 v7.8 M423.6,566.7 h7.8 M427.5,562.8 v7.8 M442.3,563.8 h7.8 M446.2,559.9 v7.8 M470.9,564.5 h7.8 M474.8,560.6 v7.8 M477.4,570.3 h7.8 M481.3,566.4 v7.8 M516.8,542.3 h7.8 M520.7,538.4 v7.8 M511.1,562.4 h7.8 M515.0,558.5 v7.8 M331.2,572.4 h7.8 M335.1,568.5 v7.8 M344.1,577.7 h7.8 M348.0,573.8 v7.8 M354.1,575.3 h7.8 M358.0,571.4 v7.8 M354.1,583.9 h7.8 M358.0,580.0 v7.8 M366.3,582.4 h7.8 M370.2,578.5 v7.8 M525.4,578.1 h7.8 M529.3,574.2 v7.8 M534.7,544.5 h7.8 M538.6,540.6 v7.8 M543.3,549.5 h7.8 M547.2,545.6 v7.8 M597.1,549.5 h7.8 M601.0,545.6 v7.8 M612.1,575.7 h7.8 M616.0,571.8 v7.8 M665.9,553.1 h7.8 M669.8,549.2 v7.8 M665.9,567.7 h7.8 M669.8,563.8 v7.8 M693.8,564.1 h7.8 M697.7,560.2 v7.8 M567.0,558.8 h7.8 M570.9,554.9 v7.8 M191.4,557.4 h7.8 M195.3,553.5 v7.8 M170.6,556.6 h7.8 M174.5,552.7 v7.8 M260.9,558.8 h7.8 M264.8,554.9 v7.8 M163.2,1126.1 h7.8 M167.1,1122.2 v7.8 M160.3,1133.7 h7.8 M164.2,1129.8 v7.8 M154.6,1144.1 h7.8 M158.5,1140.2 v7.8 M168.9,1144.4 h7.8 M172.8,1140.5 v7.8 M172.1,1150.9 h7.8 M176.0,1147.0 v7.8 M169.9,1155.2 h7.8 M173.8,1151.3 v7.8 M169.2,1157.3 h7.8 M173.1,1153.4 v7.8 M147.0,1158.0 h7.8 M150.9,1154.1 v7.8 M182.1,1158.0 h7.8 M186.0,1154.1 v7.8 M194.7,1161.3 h7.8 M198.6,1157.4 v7.8 M203.6,1135.1 h7.8 M207.5,1131.2 v7.8 M212.2,1148.4 h7.8 M216.1,1144.5 v7.8 M260.9,1144.4 h7.8 M264.8,1140.5 v7.8 M279.3,1137.0 h7.8 M283.2,1133.1 v7.8 M314.0,1163.1 h7.8 M317.9,1159.2 v7.8 M151.3,1177.4 h7.8 M155.2,1173.5 v7.8 M166.3,1174.5 h7.8 M170.2,1170.6 v7.8 M171.3,1178.5 h7.8 M175.2,1174.6 v7.8 M177.1,1174.5 h7.8 M181.0,1170.6 v7.8 M191.4,1173.8 h7.8 M195.3,1169.9 v7.8 M197.9,1184.3 h7.8 M201.8,1180.4 v7.8 M135.9,1181.0 h7.8 M139.8,1177.1 v7.8 M142.7,1193.9 h7.8 M146.6,1190.0 v7.8 M246.6,1178.1 h7.8 M250.5,1174.2 v7.8 M257.3,1177.4 h7.8 M261.2,1173.5 v7.8 M260.9,1178.8 h7.8 M264.8,1174.9 v7.8 M266.7,1187.4 h7.8 M270.6,1183.5 v7.8 M238.0,1194.6 h7.8 M241.9,1190.7 v7.8 M280.3,1191.7 h7.8 M284.2,1187.8 v7.8 M283.1,1198.2 h7.8 M287.0,1194.3 v7.8 M299.6,1181.0 h7.8 M303.5,1177.1 v7.8 M302.5,1181.7 h7.8 M306.4,1177.8 v7.8 M306.8,1189.2 h7.8 M310.7,1185.3 v7.8 M366.3,1112.2 h7.8 M370.2,1108.3 v7.8 M510.8,1129.8 h7.8 M514.7,1125.9 v7.8 M317.6,1146.6 h7.8 M321.5,1142.7 v7.8 M331.2,1148.0 h7.8 M335.1,1144.1 v7.8 M344.1,1163.8 h7.8 M348.0,1159.9 v7.8 M354.1,1162.3 h7.8 M358.0,1158.4 v7.8 M366.3,1160.2 h7.8 M370.2,1156.3 v7.8 M318.3,1172.4 h7.8 M322.2,1168.5 v7.8 M336.9,1176.7 h7.8 M340.8,1172.8 v7.8 M355.5,1183.1 h7.8 M359.4,1179.2 v7.8 M354.1,1186.0 h7.8 M358.0,1182.1 v7.8 M348.4,1192.9 h7.8 M352.3,1189.0 v7.8 M366.3,1195.3 h7.8 M370.2,1191.4 v7.8 M376.3,1200.3 h7.8 M380.2,1196.4 v7.8 M410.7,1185.0 h7.8 M414.6,1181.1 v7.8 M423.3,1188.1 h7.8 M427.2,1184.2 v7.8 M442.0,1182.1 h7.8 M445.9,1178.2 v7.8 M438.7,1202.0 h7.8 M442.6,1198.1 v7.8 M470.9,1160.9 h7.8 M474.8,1157.0 v7.8 M477.4,1174.5 h7.8 M481.3,1170.6 v7.8 M516.8,1173.8 h7.8 M520.7,1169.9 v7.8 M534.7,1158.0 h7.8 M538.6,1154.1 v7.8 M529.0,1178.1 h7.8 M532.9,1174.2 v7.8 M543.0,1184.6 h7.8 M546.9,1180.7 v7.8 M567.3,1188.1 h7.8 M571.2,1184.2 v7.8 M597.1,1192.4 h7.8 M601.0,1188.5 v7.8 M612.1,1175.7 h7.8 M616.0,1171.8 v7.8 M665.9,1157.3 h7.8 M669.8,1153.4 v7.8 M665.9,1185.7 h7.8 M669.8,1181.8 v7.8 M693.5,1175.7 h7.8 M697.4,1171.8 v7.8 M390.7,1169.6 h7.8 M394.6,1165.7 v7.8 M419.6,1169.0 h7.8 M423.5,1165.1 v7.8 M147.0,1168.5 h7.8 M150.9,1164.6 v7.8 M1014.0,529.0 h7.8 M1017.9,525.1 v7.8 M1054.5,531.6 h7.8 M1058.4,527.7 v7.8 M973.6,533.3 h7.8 M977.5,529.4 v7.8 M957.8,543.0 h7.8 M961.7,539.1 v7.8 M987.9,541.3 h7.8 M991.8,537.4 v7.8 M1022.3,541.3 h7.8 M1026.2,537.4 v7.8 M1058.8,541.9 h7.8 M1062.7,538.0 v7.8 M1078.2,543.3 h7.8 M1082.1,539.4 v7.8 M970.0,547.6 h7.8 M973.9,543.7 v7.8 M926.3,543.3 h7.8 M930.2,539.4 v7.8 M929.8,547.3 h7.8 M933.7,543.4 v7.8 M922.7,550.9 h7.8 M926.6,547.0 v7.8 M944.9,553.1 h7.8 M948.8,549.2 v7.8 M967.1,555.2 h7.8 M971.0,551.3 v7.8 M979.0,553.8 h7.8 M982.9,549.9 v7.8 M1042.4,550.2 h7.8 M1046.3,546.3 v7.8 M1037.3,554.5 h7.8 M1041.2,550.6 v7.8 M1081.8,552.3 h7.8 M1085.7,548.4 v7.8 M1088.9,555.2 h7.8 M1092.8,551.3 v7.8 M1074.6,560.9 h7.8 M1078.5,557.0 v7.8 M1093.2,562.4 h7.8 M1097.1,558.5 v7.8 M917.7,566.0 h7.8 M921.6,562.1 v7.8 M911.2,573.4 h7.8 M915.1,569.5 v7.8 M944.9,564.5 h7.8 M948.8,560.6 v7.8 M947.0,563.8 h7.8 M950.9,559.9 v7.8 M945.6,568.8 h7.8 M949.5,564.9 v7.8 M952.1,574.9 h7.8 M956.0,571.0 v7.8 M935.2,575.7 h7.8 M939.1,571.8 v7.8 M941.3,580.3 h7.8 M945.2,576.4 v7.8 M1056.0,568.5 h7.8 M1059.9,564.6 v7.8 M1035.9,578.1 h7.8 M1039.8,574.2 v7.8 M1032.6,586.3 h7.8 M1036.5,582.4 v7.8 M1092.5,593.5 h7.8 M1096.4,589.6 v7.8 M1214.4,534.1 h7.8 M1218.3,530.2 v7.8 M1292.5,539.9 h7.8 M1296.4,536.0 v7.8 M1166.1,544.5 h7.8 M1170.0,540.6 v7.8 M1151.7,548.0 h7.8 M1155.6,544.1 v7.8 M1186.4,551.3 h7.8 M1190.3,547.4 v7.8 M1111.9,551.9 h7.8 M1115.8,548.0 v7.8 M1124.1,550.9 h7.8 M1128.0,547.0 v7.8 M1131.7,551.6 h7.8 M1135.6,547.7 v7.8 M1142.0,555.6 h7.8 M1145.9,551.7 v7.8 M1198.6,559.9 h7.8 M1202.5,556.0 v7.8 M1119.8,568.1 h7.8 M1123.7,564.2 v7.8 M1129.8,564.5 h7.8 M1133.7,560.6 v7.8 M1106.9,572.8 h7.8 M1110.8,568.9 v7.8 M1129.1,572.4 h7.8 M1133.0,568.5 v7.8 M1141.3,578.9 h7.8 M1145.2,575.0 v7.8 M1246.6,563.1 h7.8 M1250.5,559.2 v7.8 M1253.1,579.6 h7.8 M1257.0,575.7 v7.8 M1286.0,585.3 h7.8 M1289.9,581.4 v7.8 M1304.0,577.4 h7.8 M1307.9,573.5 v7.8 M1194.7,554.5 h7.8 M1198.6,550.6 v7.8 M1318.3,541.3 h7.8 M1322.2,537.4 v7.8 M1342.0,544.2 h7.8 M1345.9,540.3 v7.8 M1372.8,543.3 h7.8 M1376.7,539.4 v7.8 M1441.6,552.3 h7.8 M1445.5,548.4 v7.8 M1441.6,570.6 h7.8 M1445.5,566.7 v7.8 M1387.5,590.6 h7.8 M1391.4,586.7 v7.8 M1309.7,555.2 h7.8 M1313.6,551.3 v7.8 M1468.8,557.6 h7.8 M1472.7,553.7 v7.8 M979.0,1143.7 h7.8 M982.9,1139.8 v7.8 M929.8,1150.9 h7.8 M933.7,1147.0 v7.8 M944.9,1148.7 h7.8 M948.8,1144.8 v7.8 M946.3,1152.3 h7.8 M950.2,1148.4 v7.8 M937.0,1156.6 h7.8 M940.9,1152.7 v7.8 M936.3,1158.0 h7.8 M940.2,1154.1 v7.8 M944.6,1163.8 h7.8 M948.5,1159.9 v7.8 M970.0,1153.7 h7.8 M973.9,1149.8 v7.8 M987.9,1151.9 h7.8 M991.8,1148.0 v7.8 M1021.6,1164.8 h7.8 M1025.5,1160.9 v7.8 M1036.3,1160.9 h7.8 M1040.2,1157.0 v7.8 M1054.5,1164.2 h7.8 M1058.4,1160.3 v7.8 M1088.9,1158.8 h7.8 M1092.8,1154.9 v7.8 M911.2,1174.2 h7.8 M915.1,1170.3 v7.8 M922.0,1174.5 h7.8 M925.9,1170.6 v7.8 M924.1,1176.0 h7.8 M928.0,1172.1 v7.8 M927.7,1176.0 h7.8 M931.6,1172.1 v7.8 M922.0,1181.0 h7.8 M925.9,1177.1 v7.8 M941.3,1173.8 h7.8 M945.2,1169.9 v7.8 M949.9,1173.8 h7.8 M953.8,1169.9 v7.8 M957.5,1177.4 h7.8 M961.4,1173.5 v7.8 M967.1,1175.7 h7.8 M971.0,1171.8 v7.8 M1013.7,1173.8 h7.8 M1017.6,1169.9 v7.8 M1036.3,1175.2 h7.8 M1040.2,1171.3 v7.8 M1032.3,1181.7 h7.8 M1036.2,1177.8 v7.8 M1042.4,1185.3 h7.8 M1046.3,1181.4 v7.8 M1058.1,1173.8 h7.8 M1062.0,1169.9 v7.8 M1076.8,1173.8 h7.8 M1080.7,1169.9 v7.8 M1082.5,1183.1 h7.8 M1086.4,1179.2 v7.8 M1093.2,1175.2 h7.8 M1097.1,1171.3 v7.8 M917.7,1187.7 h7.8 M921.6,1183.8 v7.8 M1106.2,1165.2 h7.8 M1110.1,1161.3 v7.8 M1141.3,1160.2 h7.8 M1145.2,1156.3 v7.8 M1141.3,1178.1 h7.8 M1145.2,1174.2 v7.8 M1151.7,1187.1 h7.8 M1155.6,1183.2 v7.8 M1111.9,1187.4 h7.8 M1115.8,1183.5 v7.8 M1119.8,1187.4 h7.8 M1123.7,1183.5 v7.8 M1124.1,1182.4 h7.8 M1128.0,1178.5 v7.8 M1129.1,1183.1 h7.8 M1133.0,1179.2 v7.8 M1130.5,1174.5 h7.8 M1134.4,1170.6 v7.8 M1166.4,1176.7 h7.8 M1170.3,1172.8 v7.8 M1186.1,1184.9 h7.8 M1190.0,1181.0 v7.8 M1195.0,1160.9 h7.8 M1198.9,1157.0 v7.8 M1198.6,1164.5 h7.8 M1202.5,1160.6 v7.8 M1214.4,1163.8 h7.8 M1218.3,1159.9 v7.8 M1246.3,1158.0 h7.8 M1250.2,1154.1 v7.8 M1253.1,1153.7 h7.8 M1257.0,1149.8 v7.8 M1286.8,1158.8 h7.8 M1290.7,1154.9 v7.8 M1304.0,1160.2 h7.8 M1307.9,1156.3 v7.8 M1292.5,1170.2 h7.8 M1296.4,1166.3 v7.8 M1310.2,1138.0 h7.8 M1314.1,1134.1 v7.8 M1387.6,1160.0 h7.8 M1391.5,1156.1 v7.8 M1342.8,1188.0 h7.8 M1346.7,1184.1 v7.8 M1372.6,1188.0 h7.8 M1376.5,1184.1 v7.8 M1318.8,1195.7 h7.8 M1322.7,1191.8 v7.8 M1441.5,1180.4 h7.8 M1445.4,1176.5 v7.8 M1469.1,1190.0 h7.8 M1473.0,1186.1 v7.8 M1441.2,1166.1 h7.8 M1445.1,1162.2 v7.8 M973.6,1168.4 h7.8 M977.5,1164.5 v7.8 M1141.3,1168.8 h7.8 M1145.2,1164.9 v7.8" fill="none" stroke="#2a1808" stroke-width="1.8"/>
<path d="M752.5,495.6 L750.8,495.6 L750.8,502.5 L750.8,502.5 L750.8,509.4 L750.2,509.4 L750.2,516.3 L750.2,516.3 L750.2,523.1 L745.5,523.1 L745.5,530.0 L743.3,530.0 L743.3,536.9 L724.5,536.9 L724.5,543.8 L727.9,543.8 L727.9,550.7 L731.4,550.7 L731.4,557.6 L727.9,557.6 L727.9,564.5 L724.5,564.5 L724.5,571.4 L735.9,571.4 L735.9,578.3 L737.1,578.3 L737.1,585.2 L747.3,585.2 L747.3,592.0 L749.0,592.1 L749.0,598.9 L750.5,598.9 L750.5,605.8 L750.8,605.8 L750.8,612.7 L752.5,612.7Z" fill="#fce4e4" stroke="none"/>
<path d="M752.5,509.4 L749.0,509.4 L749.0,516.3 L750.8,516.3 L750.8,523.1 L750.8,523.1 L750.8,530.0 L741.6,530.0 L741.6,536.9 L739.9,536.9 L739.9,543.8 L739.9,543.8 L739.9,550.7 L737.6,550.7 L737.6,557.6 L732.0,557.6 L732.0,564.5 L737.1,564.5 L737.1,571.4 L739.3,571.4 L739.3,578.3 L741.0,578.3 L741.0,585.2 L749.0,585.2 L749.0,592.0 L751.3,592.1 L751.3,598.9 L749.0,598.9 L749.0,605.8 L750.8,605.8 L750.8,612.7 L752.5,612.7Z" fill="#f9d9d9" stroke="none"/>
<path d="M752.5,495.6 L750.8,495.6 L750.8,502.5 L750.8,502.5 L750.8,509.4 L750.2,509.4 L750.2,516.3 L750.2,516.3 L750.2,523.1 L745.5,523.1 L745.5,530.0 L743.3,530.0 L743.3,536.9 L724.5,536.9 L724.5,543.8 L727.9,543.8 L727.9,550.7 L731.4,550.7 L731.4,557.6 L727.9,557.6 L727.9,564.5 L724.5,564.5 L724.5,571.4 L735.9,571.4 L735.9,578.3 L737.1,578.3 L737.1,585.2 L747.3,585.2 L747.3,592.0 L749.0,592.1 L749.0,598.9 L750.5,598.9 L750.5,605.8 L750.8,605.8 L750.8,612.7 L752.5,612.7" fill="none" stroke="#f4907c" stroke-width="1.2"/>
<path d="M752.5,509.4 L749.0,509.4 L749.0,516.3 L750.8,516.3 L750.8,523.1 L750.8,523.1 L750.8,530.0 L741.6,530.0 L741.6,536.9 L739.9,536.9 L739.9,543.8 L739.9,543.8 L739.9,550.7 L737.6,550.7 L737.6,557.6 L732.0,557.6 L732.0,564.5 L737.1,564.5 L737.1,571.4 L739.3,571.4 L739.3,578.3 L741.0,578.3 L741.0,585.2 L749.0,585.2 L749.0,592.0 L751.3,592.1 L751.3,598.9 L749.0,598.9 L749.0,605.8 L750.8,605.8 L750.8,612.7 L752.5,612.7" fill="none" stroke="#231710" stroke-width="1.6"/>
<path d="M752.5,1107.6 L750.5,1107.6 L750.5,1114.5 L750.5,1114.5 L750.5,1121.4 L750.5,1121.4 L750.5,1128.3 L750.5,1128.3 L750.5,1135.2 L750.5,1135.2 L750.5,1142.2 L750.5,1142.2 L750.5,1149.1 L738.9,1149.1 L738.9,1156.0 L738.9,1156.0 L738.9,1162.9 L738.9,1162.9 L738.9,1169.8 L724.5,1169.8 L724.5,1176.7 L736.0,1176.7 L736.0,1183.6 L735.5,1183.6 L735.5,1190.5 L752.5,1190.5Z" fill="#fce4e4" stroke="none"/>
<path d="M752.5,1107.6 L751.5,1107.6 L751.5,1114.5 L751.5,1114.5 L751.5,1121.4 L751.5,1121.4 L751.5,1128.3 L749.5,1128.3 L749.5,1135.2 L749.5,1135.2 L749.5,1142.2 L745.4,1142.2 L745.4,1149.1 L749.5,1149.1 L749.5,1156.0 L742.2,1156.0 L742.2,1162.9 L747.2,1162.9 L747.2,1169.8 L739.8,1169.8 L739.8,1176.7 L738.7,1176.7 L738.7,1183.6 L740.0,1183.6 L740.0,1190.5 L744.8,1190.5 L744.8,1197.4 L748.3,1197.4 L748.3,1204.4 L752.5,1204.3Z" fill="#f9d9d9" stroke="none"/>
<path d="M752.5,1107.6 L750.5,1107.6 L750.5,1114.5 L750.5,1114.5 L750.5,1121.4 L750.5,1121.4 L750.5,1128.3 L750.5,1128.3 L750.5,1135.2 L750.5,1135.2 L750.5,1142.2 L750.5,1142.2 L750.5,1149.1 L738.9,1149.1 L738.9,1156.0 L738.9,1156.0 L738.9,1162.9 L738.9,1162.9 L738.9,1169.8 L724.5,1169.8 L724.5,1176.7 L736.0,1176.7 L736.0,1183.6 L735.5,1183.6 L735.5,1190.5 L752.5,1190.5" fill="none" stroke="#f4907c" stroke-width="1.2"/>
<path d="M752.5,1107.6 L751.5,1107.6 L751.5,1114.5 L751.5,1114.5 L751.5,1121.4 L751.5,1121.4 L751.5,1128.3 L749.5,1128.3 L749.5,1135.2 L749.5,1135.2 L749.5,1142.2 L745.4,1142.2 L745.4,1149.1 L749.5,1149.1 L749.5,1156.0 L742.2,1156.0 L742.2,1162.9 L747.2,1162.9 L747.2,1169.8 L739.8,1169.8 L739.8,1176.7 L738.7,1176.7 L738.7,1183.6 L740.0,1183.6 L740.0,1190.5 L744.8,1190.5 L744.8,1197.4 L748.3,1197.4 L748.3,1204.4 L752.5,1204.3" fill="none" stroke="#231710" stroke-width="1.6"/>
<path d="M1528.0,523.6 L1527.0,523.6 L1527.0,530.5 L1527.0,530.5 L1527.0,537.4 L1527.0,537.4 L1527.0,544.2 L1514.3,544.2 L1514.3,551.0 L1501.2,551.0 L1501.2,557.9 L1514.9,557.9 L1514.9,564.8 L1512.6,564.8 L1512.6,571.6 L1520.6,571.6 L1520.6,578.5 L1521.2,578.4 L1521.2,585.3 L1528.0,585.3Z" fill="#fce4e4" stroke="none"/>
<path d="M1528.0,523.6 L1526.9,523.6 L1526.9,530.5 L1525.1,530.5 L1525.1,537.4 L1519.5,537.4 L1519.5,544.2 L1519.5,544.2 L1519.5,551.0 L1514.1,551.0 L1514.1,557.9 L1520.6,557.9 L1520.6,564.8 L1520.6,564.8 L1520.6,571.6 L1521.2,571.6 L1521.2,578.5 L1525.1,578.4 L1525.1,585.3 L1525.7,585.3 L1525.7,592.1 L1528.0,592.1Z" fill="#f9d9d9" stroke="none"/>
<path d="M1528.0,523.6 L1527.0,523.6 L1527.0,530.5 L1527.0,530.5 L1527.0,537.4 L1527.0,537.4 L1527.0,544.2 L1514.3,544.2 L1514.3,551.0 L1501.2,551.0 L1501.2,557.9 L1514.9,557.9 L1514.9,564.8 L1512.6,564.8 L1512.6,571.6 L1520.6,571.6 L1520.6,578.5 L1521.2,578.4 L1521.2,585.3 L1528.0,585.3" fill="none" stroke="#f4907c" stroke-width="1.2"/>
<path d="M1528.0,523.6 L1526.9,523.6 L1526.9,530.5 L1525.1,530.5 L1525.1,537.4 L1519.5,537.4 L1519.5,544.2 L1519.5,544.2 L1519.5,551.0 L1514.1,551.0 L1514.1,557.9 L1520.6,557.9 L1520.6,564.8 L1520.6,564.8 L1520.6,571.6 L1521.2,571.6 L1521.2,578.5 L1525.1,578.4 L1525.1,585.3 L1525.7,585.3 L1525.7,592.1 L1528.0,592.1" fill="none" stroke="#231710" stroke-width="1.6"/>
<path d="M1528.0,1149.0 L1515.0,1149.0 L1515.0,1155.9 L1512.7,1155.9 L1512.7,1162.8 L1501.2,1162.8 L1501.2,1169.7 L1505.0,1169.7 L1505.0,1176.6 L1503.5,1176.6 L1503.5,1183.5 L1523.4,1183.5 L1523.4,1190.4 L1528.0,1190.4Z" fill="#fce4e4" stroke="none"/>
<path d="M1528.0,1135.2 L1526.2,1135.2 L1526.2,1142.1 L1525.7,1142.1 L1525.7,1149.0 L1521.1,1149.0 L1521.1,1155.9 L1517.3,1155.9 L1517.3,1162.8 L1514.0,1162.8 L1514.0,1169.7 L1507.3,1169.7 L1507.3,1176.6 L1517.3,1176.6 L1517.3,1183.5 L1522.6,1183.5 L1522.6,1190.4 L1528.0,1190.4Z" fill="#f9d9d9" stroke="none"/>
<path d="M1528.0,1149.0 L1515.0,1149.0 L1515.0,1155.9 L1512.7,1155.9 L1512.7,1162.8 L1501.2,1162.8 L1501.2,1169.7 L1505.0,1169.7 L1505.0,1176.6 L1503.5,1176.6 L1503.5,1183.5 L1523.4,1183.5 L1523.4,1190.4 L1528.0,1190.4" fill="none" stroke="#f4907c" stroke-width="1.2"/>
<path d="M1528.0,1135.2 L1526.2,1135.2 L1526.2,1142.1 L1525.7,1142.1 L1525.7,1149.0 L1521.1,1149.0 L1521.1,1155.9 L1517.3,1155.9 L1517.3,1162.8 L1514.0,1162.8 L1514.0,1169.7 L1507.3,1169.7 L1507.3,1176.6 L1517.3,1176.6 L1517.3,1183.5 L1522.6,1183.5 L1522.6,1190.4 L1528.0,1190.4" fill="none" stroke="#231710" stroke-width="1.6"/>
<path d="M76.7,50.8 V463.8 H752.5" fill="none" stroke="#111" stroke-width="2.2" stroke-linejoin="miter"/>
<path d="M76.7,50.8 h7.3" stroke="#111" stroke-width="2.2"/>
<path d="M76.7,125.9 h7.3" stroke="#111" stroke-width="2.2"/>
<path d="M76.7,201.0 h7.3" stroke="#111" stroke-width="2.2"/>
<path d="M76.7,276.1 h7.3" stroke="#111" stroke-width="2.2"/>
<path d="M76.7,351.2 h7.3" stroke="#111" stroke-width="2.2"/>
<path d="M76.7,426.3 h7.3" stroke="#111" stroke-width="2.2"/>
<path d="M129.2,463.8 v-7.3" stroke="#111" stroke-width="2.2"/>
<path d="M211.7,463.8 v-7.3" stroke="#111" stroke-width="2.2"/>
<path d="M339.4,463.8 v-7.3" stroke="#111" stroke-width="2.2"/>
<path d="M489.5,463.8 v-7.3" stroke="#111" stroke-width="2.2"/>
<path d="M639.7,463.8 v-7.3" stroke="#111" stroke-width="2.2"/>
<path d="M76.7,488.7 V626.5 H752.5 V488.7" fill="none" stroke="#111" stroke-width="2.2" stroke-linejoin="miter"/>
<path d="M76.7,488.7 h7.3" stroke="#111" stroke-width="2.2"/>
<path d="M76.7,557.6 h7.3" stroke="#111" stroke-width="2.2"/>
<path d="M76.7,626.5 h7.3" stroke="#111" stroke-width="2.2"/>
<path d="M129.2,626.5 v-7.3" stroke="#111" stroke-width="2.2"/>
<path d="M211.7,626.5 v-7.3" stroke="#111" stroke-width="2.2"/>
<path d="M339.4,626.5 v-7.3" stroke="#111" stroke-width="2.2"/>
<path d="M489.5,626.5 v-7.3" stroke="#111" stroke-width="2.2"/>
<path d="M639.7,626.5 v-7.3" stroke="#111" stroke-width="2.2"/>
<path d="M77.7,557.6 H721.6" stroke="#fff" stroke-width="4.6"/>
<path d="M76.7,557.6 H721.6" stroke="#1c1c1c" stroke-width="1.9"/>
<path d="M76.7,663.8 V1077.1 H752.5" fill="none" stroke="#111" stroke-width="2.2" stroke-linejoin="miter"/>
<path d="M76.7,663.8 h7.3" stroke="#111" stroke-width="2.2"/>
<path d="M76.7,767.1 h7.3" stroke="#111" stroke-width="2.2"/>
<path d="M76.7,870.4 h7.3" stroke="#111" stroke-width="2.2"/>
<path d="M76.7,973.8 h7.3" stroke="#111" stroke-width="2.2"/>
<path d="M76.7,1077.1 h7.3" stroke="#111" stroke-width="2.2"/>
<path d="M129.2,1077.1 v-7.3" stroke="#111" stroke-width="2.2"/>
<path d="M211.7,1077.1 v-7.3" stroke="#111" stroke-width="2.2"/>
<path d="M339.4,1077.1 v-7.3" stroke="#111" stroke-width="2.2"/>
<path d="M489.5,1077.1 v-7.3" stroke="#111" stroke-width="2.2"/>
<path d="M639.7,1077.1 v-7.3" stroke="#111" stroke-width="2.2"/>
<path d="M76.7,1100.7 V1238.9 H752.5 V1100.7" fill="none" stroke="#111" stroke-width="2.2" stroke-linejoin="miter"/>
<path d="M76.7,1100.7 h7.3" stroke="#111" stroke-width="2.2"/>
<path d="M76.7,1169.8 h7.3" stroke="#111" stroke-width="2.2"/>
<path d="M76.7,1238.9 h7.3" stroke="#111" stroke-width="2.2"/>
<path d="M129.2,1238.9 v-7.3" stroke="#111" stroke-width="2.2"/>
<path d="M211.7,1238.9 v-7.3" stroke="#111" stroke-width="2.2"/>
<path d="M339.4,1238.9 v-7.3" stroke="#111" stroke-width="2.2"/>
<path d="M489.5,1238.9 v-7.3" stroke="#111" stroke-width="2.2"/>
<path d="M639.7,1238.9 v-7.3" stroke="#111" stroke-width="2.2"/>
<path d="M77.7,1169.8 H721.6" stroke="#fff" stroke-width="4.6"/>
<path d="M76.7,1169.8 H721.6" stroke="#1c1c1c" stroke-width="1.9"/>
<path d="M852.3,50.8 V463.8 H1528.1" fill="none" stroke="#111" stroke-width="2.2" stroke-linejoin="miter"/>
<path d="M852.3,50.8 h7.3" stroke="#111" stroke-width="2.2"/>
<path d="M852.3,125.9 h7.3" stroke="#111" stroke-width="2.2"/>
<path d="M852.3,201.0 h7.3" stroke="#111" stroke-width="2.2"/>
<path d="M852.3,276.1 h7.3" stroke="#111" stroke-width="2.2"/>
<path d="M852.3,351.2 h7.3" stroke="#111" stroke-width="2.2"/>
<path d="M852.3,426.3 h7.3" stroke="#111" stroke-width="2.2"/>
<path d="M904.8,463.8 v-7.3" stroke="#111" stroke-width="2.2"/>
<path d="M987.3,463.8 v-7.3" stroke="#111" stroke-width="2.2"/>
<path d="M1115.0,463.8 v-7.3" stroke="#111" stroke-width="2.2"/>
<path d="M1265.1,463.8 v-7.3" stroke="#111" stroke-width="2.2"/>
<path d="M1415.3,463.8 v-7.3" stroke="#111" stroke-width="2.2"/>
<path d="M852.3,488.7 V626.5 H1528.1 V488.7" fill="none" stroke="#111" stroke-width="2.2" stroke-linejoin="miter"/>
<path d="M852.3,488.7 h7.3" stroke="#111" stroke-width="2.2"/>
<path d="M852.3,557.6 h7.3" stroke="#111" stroke-width="2.2"/>
<path d="M852.3,626.5 h7.3" stroke="#111" stroke-width="2.2"/>
<path d="M904.8,626.5 v-7.3" stroke="#111" stroke-width="2.2"/>
<path d="M987.3,626.5 v-7.3" stroke="#111" stroke-width="2.2"/>
<path d="M1115.0,626.5 v-7.3" stroke="#111" stroke-width="2.2"/>
<path d="M1265.1,626.5 v-7.3" stroke="#111" stroke-width="2.2"/>
<path d="M1415.3,626.5 v-7.3" stroke="#111" stroke-width="2.2"/>
<path d="M853.3,557.6 H1498.3" stroke="#fff" stroke-width="4.6"/>
<path d="M852.3,557.6 H1498.3" stroke="#1c1c1c" stroke-width="1.9"/>
<path d="M852.3,663.8 V1077.1 H1528.1" fill="none" stroke="#111" stroke-width="2.2" stroke-linejoin="miter"/>
<path d="M852.3,663.8 h7.3" stroke="#111" stroke-width="2.2"/>
<path d="M852.3,767.1 h7.3" stroke="#111" stroke-width="2.2"/>
<path d="M852.3,870.4 h7.3" stroke="#111" stroke-width="2.2"/>
<path d="M852.3,973.8 h7.3" stroke="#111" stroke-width="2.2"/>
<path d="M852.3,1077.1 h7.3" stroke="#111" stroke-width="2.2"/>
<path d="M904.8,1077.1 v-7.3" stroke="#111" stroke-width="2.2"/>
<path d="M987.3,1077.1 v-7.3" stroke="#111" stroke-width="2.2"/>
<path d="M1115.0,1077.1 v-7.3" stroke="#111" stroke-width="2.2"/>
<path d="M1265.1,1077.1 v-7.3" stroke="#111" stroke-width="2.2"/>
<path d="M1415.3,1077.1 v-7.3" stroke="#111" stroke-width="2.2"/>
<path d="M852.3,1100.7 V1238.9 H1528.1 V1100.7" fill="none" stroke="#111" stroke-width="2.2" stroke-linejoin="miter"/>
<path d="M852.3,1100.7 h7.3" stroke="#111" stroke-width="2.2"/>
<path d="M852.3,1169.8 h7.3" stroke="#111" stroke-width="2.2"/>
<path d="M852.3,1238.9 h7.3" stroke="#111" stroke-width="2.2"/>
<path d="M904.8,1238.9 v-7.3" stroke="#111" stroke-width="2.2"/>
<path d="M987.3,1238.9 v-7.3" stroke="#111" stroke-width="2.2"/>
<path d="M1115.0,1238.9 v-7.3" stroke="#111" stroke-width="2.2"/>
<path d="M1265.1,1238.9 v-7.3" stroke="#111" stroke-width="2.2"/>
<path d="M1415.3,1238.9 v-7.3" stroke="#111" stroke-width="2.2"/>
<path d="M853.3,1169.8 H1498.3" stroke="#fff" stroke-width="4.6"/>
<path d="M852.3,1169.8 H1498.3" stroke="#1c1c1c" stroke-width="1.9"/>
<g font-family="'Liberation Sans', Arial, Helvetica, sans-serif" fill="#161616"><text x="67.4" y="59.6" font-size="22.5" text-anchor="end" >8</text><text x="67.4" y="134.7" font-size="22.5" text-anchor="end" >7</text><text x="67.4" y="209.8" font-size="22.5" text-anchor="end" >6</text><text x="67.4" y="284.9" font-size="22.5" text-anchor="end" >5</text><text x="67.4" y="360.0" font-size="22.5" text-anchor="end" >4</text><text x="67.4" y="435.1" font-size="22.5" text-anchor="end" >3</text><text x="67.4" y="497.5" font-size="22.5" text-anchor="end" >2</text><text x="67.4" y="566.4" font-size="22.5" text-anchor="end" >0</text><text x="67.4" y="635.3" font-size="22.5" text-anchor="end" >-2</text><text x="67.4" y="672.6" font-size="22.5" text-anchor="end" >2</text><text x="67.4" y="775.9" font-size="22.5" text-anchor="end" >1.5</text><text x="67.4" y="879.2" font-size="22.5" text-anchor="end" >1</text><text x="67.4" y="982.6" font-size="22.5" text-anchor="end" >0.5</text><text x="67.4" y="1085.9" font-size="22.5" text-anchor="end" >0</text><text x="67.4" y="1109.5" font-size="22.5" text-anchor="end" >1</text><text x="67.4" y="1178.6" font-size="22.5" text-anchor="end" >0</text><text x="67.4" y="1247.7" font-size="22.5" text-anchor="end" >-1</text><text x="125.7" y="1270.6" font-size="23" text-anchor="middle" >7</text><text x="211.7" y="1270.6" font-size="23" text-anchor="middle" >18</text><text x="339.4" y="1270.6" font-size="23" text-anchor="middle" >35</text><text x="489.5" y="1270.6" font-size="23" text-anchor="middle" >55</text><text x="639.7" y="1270.6" font-size="23" text-anchor="middle" >75</text><text x="414.6" y="1304.5" font-size="25" text-anchor="middle" >Age (years)</text><text x="843.0" y="59.6" font-size="22.5" text-anchor="end" >8</text><text x="843.0" y="134.7" font-size="22.5" text-anchor="end" >7</text><text x="843.0" y="209.8" font-size="22.5" text-anchor="end" >6</text><text x="843.0" y="284.9" font-size="22.5" text-anchor="end" >5</text><text x="843.0" y="360.0" font-size="22.5" text-anchor="end" >4</text><text x="843.0" y="435.1" font-size="22.5" text-anchor="end" >3</text><text x="843.0" y="497.5" font-size="22.5" text-anchor="end" >2</text><text x="843.0" y="566.4" font-size="22.5" text-anchor="end" >0</text><text x="843.0" y="635.3" font-size="22.5" text-anchor="end" >-2</text><text x="843.0" y="672.6" font-size="22.5" text-anchor="end" >2</text><text x="843.0" y="775.9" font-size="22.5" text-anchor="end" >1.5</text><text x="843.0" y="879.2" font-size="22.5" text-anchor="end" >1</text><text x="843.0" y="982.6" font-size="22.5" text-anchor="end" >0.5</text><text x="843.0" y="1085.9" font-size="22.5" text-anchor="end" >0</text><text x="843.0" y="1109.5" font-size="22.5" text-anchor="end" >1</text><text x="843.0" y="1178.6" font-size="22.5" text-anchor="end" >0</text><text x="843.0" y="1247.7" font-size="22.5" text-anchor="end" >-1</text><text x="901.3" y="1270.6" font-size="23" text-anchor="middle" >7</text><text x="987.3" y="1270.6" font-size="23" text-anchor="middle" >18</text><text x="1115.0" y="1270.6" font-size="23" text-anchor="middle" >35</text><text x="1265.1" y="1270.6" font-size="23" text-anchor="middle" >55</text><text x="1415.3" y="1270.6" font-size="23" text-anchor="middle" >75</text><text x="1190.2" y="1304.5" font-size="25" text-anchor="middle" >Age (years)</text><text x="415.2" y="28.6" font-size="32" text-anchor="middle" >Initiation Speed</text><text x="1189.6" y="28.6" font-size="32" text-anchor="middle" >Arrival Speed</text><text x="0" y="0" font-size="25" text-anchor="middle" transform="translate(24.6,257.2) rotate(-90)">Mean (1/sec)</text><text x="0" y="0" font-size="25" text-anchor="middle" transform="translate(24.6,557.6) rotate(-90)">Residual</text><text x="0" y="0" font-size="25" text-anchor="middle" transform="translate(24.6,870.4) rotate(-90)">SD (1/sec)</text><text x="0" y="0" font-size="25" text-anchor="middle" transform="translate(24.6,1169.8) rotate(-90)">Residual</text></g>
</svg>
</body></html>
